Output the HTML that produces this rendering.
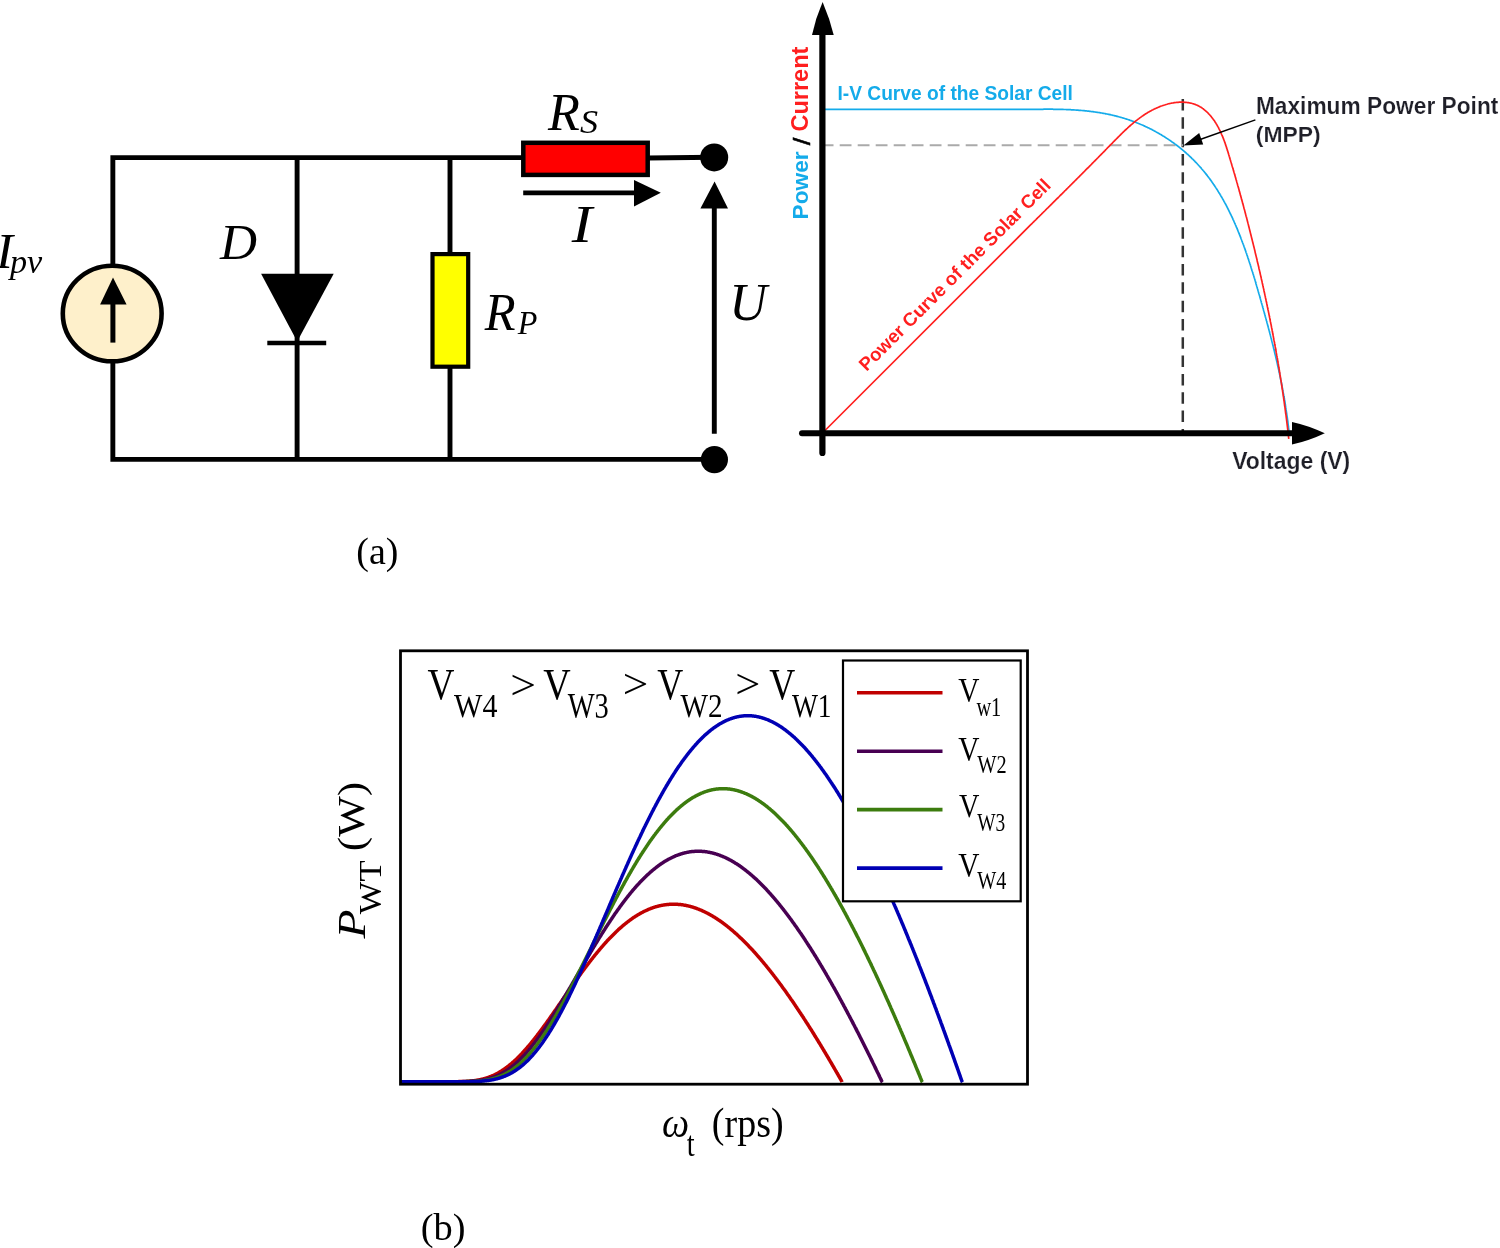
<!DOCTYPE html>
<html><head><meta charset="utf-8"><title>Figure</title>
<style>html,body{margin:0;padding:0;background:#fff;overflow:hidden}svg{display:block}
.ser{font-family:"Liberation Serif","Times New Roman",serif}
.san{font-family:"Liberation Sans",Arial,sans-serif;font-weight:bold}
</style></head><body>
<svg width="1500" height="1248" viewBox="0 0 1500 1248">
<rect width="1500" height="1248" fill="#fff"/>
<g id="circuit" stroke="#000" fill="none" stroke-width="4.9">
<polyline id="w_left" points="112.85,265 112.85,157.6 522,157.6"/>
<polyline id="w_bot" points="112.85,362 112.85,459.4 714,459.4"/>
<line x1="297.1" y1="157.6" x2="297.1" y2="459.4"/>
<line x1="450" y1="157.6" x2="450" y2="459.4"/>
<line x1="648" y1="158.0" x2="714" y2="157.2"/>
</g>
<ellipse id="src" cx="112.2" cy="313.5" rx="49.4" ry="47.8" fill="#FEF0CB" stroke="#000" stroke-width="4.6"/>
<line x1="112.9" y1="342.6" x2="112.9" y2="300" stroke="#000" stroke-width="5"/>
<polygon points="113,277.4 100.1,304.5 126.6,304.5" fill="#000"/>
<polygon id="diode" points="261.1,273.8 333.7,273.8 297.2,341.5" fill="#000"/>
<line x1="267.3" y1="343" x2="326.2" y2="343" stroke="#000" stroke-width="4.3"/>
<rect id="rp" x="432.5" y="254.1" width="35.7" height="112.6" fill="#FFFF00" stroke="#000" stroke-width="4.2"/>
<rect id="rs" x="523.3" y="142.8" width="124.4" height="32.1" fill="#FF0000" stroke="#000" stroke-width="4.5"/>
<line x1="523.2" y1="192.8" x2="636" y2="192.8" stroke="#000" stroke-width="4.8"/>
<polygon points="634,180 634,206.4 660.8,192.8" fill="#000"/>
<circle cx="714.2" cy="157.4" r="14" fill="#000"/>
<circle cx="714.4" cy="459.6" r="13.6" fill="#000"/>
<polygon points="714.6,181.6 700.4,208.5 728,208.5" fill="#000"/>
<line x1="714.3" y1="206" x2="714.3" y2="433.8" stroke="#000" stroke-width="4.9"/>
<line x1="1182.8" y1="99" x2="1182.8" y2="431" stroke="#333" stroke-width="2.5" stroke-dasharray="11.5 6.83"/>
<line x1="821.7" y1="145.3" x2="1183" y2="145.3" stroke="#aaaaaa" stroke-width="1.9" stroke-dasharray="11.8 6.2"/>
<path id="ivb" d="M822.5 109.4 L1030.6 109.4L1031.3 109.4 1032.0 109.4 1032.7 109.4 1033.4 109.4 1034.1 109.4 1034.8 109.4 1035.5 109.3 1036.2 109.3 1036.8 109.3 1037.5 109.3 1038.2 109.3 1038.9 109.3 1039.6 109.3 1040.3 109.3 1041.0 109.3 1041.7 109.3 1042.4 109.3 1043.1 109.3 1043.8 109.2 1044.4 109.2 1045.1 109.2 1045.8 109.2 1046.5 109.2 1047.2 109.2 1047.9 109.2 1048.6 109.2 1049.3 109.2 1050.0 109.2 1050.7 109.2 1051.3 109.2 1052.0 109.2 1052.7 109.2 1053.4 109.3 1054.1 109.3 1054.8 109.3 1055.5 109.3 1056.2 109.3 1056.9 109.3 1057.6 109.3 1058.2 109.3 1058.9 109.3 1059.6 109.4 1060.3 109.4 1061.0 109.4 1061.7 109.4 1062.4 109.4 1063.1 109.4 1063.8 109.5 1064.4 109.5 1065.1 109.5 1065.8 109.5 1066.5 109.6 1067.2 109.6 1067.9 109.6 1068.6 109.7 1069.3 109.7 1069.9 109.7 1070.6 109.7 1071.3 109.8 1072.0 109.8 1072.7 109.9 1073.4 109.9 1074.1 109.9 1074.7 110.0 1075.4 110.0 1076.1 110.1 1076.8 110.1 1077.5 110.2 1078.2 110.2 1078.8 110.3 1079.5 110.3 1080.2 110.4 1080.9 110.4 1081.6 110.5 1082.2 110.5 1082.9 110.6 1083.6 110.7 1084.3 110.7 1085.0 110.8 1085.6 110.9 1086.3 110.9 1087.0 111.0 1087.7 111.1 1088.4 111.2 1089.0 111.2 1089.7 111.3 1090.4 111.4 1091.1 111.5 1091.7 111.6 1092.4 111.6 1093.1 111.7 1093.8 111.8 1094.4 111.9 1095.1 112.0 1095.8 112.1 1096.4 112.2 1097.1 112.3 1097.8 112.4 1098.5 112.5 1099.1 112.6 1099.8 112.7 1100.5 112.8 1101.1 112.9 1101.8 113.0 1102.5 113.2 1103.1 113.3 1103.8 113.4 1104.5 113.5 1105.1 113.6 1105.8 113.8 1106.4 113.9 1107.1 114.0 1107.8 114.2 1108.4 114.3 1109.1 114.4 1109.7 114.6 1110.4 114.7 1111.1 114.9 1111.7 115.0 1112.4 115.2 1113.0 115.3 1113.7 115.5 1114.3 115.6 1115.0 115.8 1115.6 115.9 1116.3 116.1 1116.9 116.3 1117.6 116.4 1118.2 116.6 1118.9 116.8 1119.5 117.0 1120.2 117.2 1120.8 117.3 1121.5 117.5 1122.1 117.7 1122.8 117.9 1123.4 118.1 1124.1 118.3 1124.7 118.5 1125.3 118.7 1126.0 118.9 1126.6 119.1 1127.3 119.3 1127.9 119.5 1128.5 119.7 1129.2 119.9 1129.8 120.2 1130.4 120.4 1131.1 120.6 1131.7 120.8 1132.3 121.1 1133.0 121.3 1133.6 121.5 1134.2 121.8 1134.8 122.0 1135.5 122.2 1136.1 122.5 1136.7 122.7 1137.3 123.0 1138.0 123.2 1138.6 123.5 1139.2 123.7 1139.8 124.0 1140.4 124.2 1141.0 124.5 1141.7 124.8 1142.3 125.0 1142.9 125.3 1143.5 125.6 1144.1 125.9 1144.7 126.1 1145.3 126.4 1145.9 126.7 1146.5 127.0 1147.1 127.3 1147.7 127.6 1148.3 127.8 1148.9 128.1 1149.5 128.4 1150.1 128.7 1150.7 129.0 1151.3 129.3 1151.9 129.6 1152.5 130.0 1153.1 130.3 1153.7 130.6 1154.3 130.9 1154.9 131.2 1155.5 131.5 1156.1 131.9 1156.6 132.2 1157.2 132.5 1157.8 132.8 1158.4 133.2 1159.0 133.5 1159.5 133.8 1160.1 134.2 1160.7 134.5 1161.3 134.8 1161.8 135.2 1162.4 135.5 1163.0 135.9 1163.6 136.2 1164.1 136.6 1164.7 136.9 1165.2 137.3 1165.8 137.7 1166.4 138.0 1166.9 138.4 1167.5 138.8 1168.0 139.1 1168.6 139.5 1169.2 139.9 1169.7 140.2 1170.3 140.6 1170.8 141.0 1171.4 141.4 1171.9 141.8 1172.4 142.2 1173.0 142.5 1173.5 142.9 1174.1 143.3 1174.6 143.7 1175.1 144.1 1175.7 144.5 1176.2 144.9 1176.7 145.3 1177.3 145.7 1177.8 146.1 1178.3 146.5 1178.8 146.9 1179.4 147.4 1179.9 147.8 1180.4 148.2 1180.9 148.6 1181.4 149.0 1181.9 149.4 1182.5 149.9 1183.0 150.3 1183.5 150.7 1184.0 151.2 1184.5 151.6 1185.0 152.0 1185.5 152.5 1186.0 152.9 1186.5 153.3 1187.0 153.8 1187.5 154.2 1188.0 154.7 1188.5 155.1 1189.0 155.6 1189.4 156.0 1189.9 156.5 1190.4 156.9 1190.9 157.4 1191.4 157.9 1191.8 158.3 1192.3 158.8 1192.8 159.2 1193.3 159.7 1193.7 160.2 1194.2 160.7 1194.7 161.1 1195.1 161.6 1195.6 162.1 1196.1 162.6 1196.5 163.0 1197.0 163.5 1197.4 164.0 1197.9 164.5 1198.3 165.0 1198.8 165.5 1199.2 166.0 1199.7 166.5 1200.1 167.0 1200.5 167.5 1201.0 167.9 1201.4 168.5 1201.8 169.0 1202.3 169.5 1202.7 170.0 1203.1 170.5 1203.6 171.0 1204.0 171.5 1204.4 172.0 1204.8 172.5 1205.2 173.0 1205.7 173.6 1206.1 174.1 1206.5 174.6 1206.9 175.1 1207.3 175.6 1207.7 176.2 1208.1 176.7 1208.5 177.2 1208.9 177.8 1209.3 178.3 1209.7 178.8 1210.1 179.4 1210.5 179.9 1210.9 180.4 1211.3 181.0 1211.6 181.5 1212.0 182.1 1212.4 182.6 1212.8 183.2 1213.2 183.7 1213.5 184.2 1213.9 184.8 1214.3 185.4 1214.7 185.9 1215.0 186.5 1215.4 187.0 1215.8 187.6 1216.1 188.1 1216.5 188.7 1216.8 189.3 1217.2 189.8 1217.6 190.4 1217.9 191.0 1218.3 191.5 1218.6 192.1 1219.0 192.7 1219.3 193.2 1219.7 193.8 1220.0 194.4 1220.4 195.0 1220.7 195.5 1221.0 196.1 1221.4 196.7 1221.7 197.3 1222.1 197.9 1222.4 198.4 1222.7 199.0 1223.1 199.6 1223.4 200.2 1223.7 200.8 1224.0 201.4 1224.4 202.0 1224.7 202.6 1225.0 203.1 1225.3 203.7 1225.6 204.3 1226.0 204.9 1226.3 205.5 1226.6 206.1 1226.9 206.7 1227.2 207.3 1227.5 207.9 1227.8 208.5 1228.1 209.1 1228.4 209.7 1228.7 210.3 1229.0 211.0 1229.3 211.6 1229.6 212.2 1229.9 212.8 1230.2 213.4 1230.5 214.0 1230.8 214.6 1231.1 215.2 1231.4 215.8 1231.7 216.5 1232.0 217.1 1232.3 217.7 1232.6 218.3 1232.8 218.9 1233.1 219.6 1233.4 220.2 1233.7 220.8 1234.0 221.4 1234.2 222.0 1234.5 222.7 1234.8 223.3 1235.1 223.9 1235.3 224.5 1235.6 225.2 1235.9 225.8 1236.2 226.4 1236.4 227.1 1236.7 227.7 1237.0 228.3 1237.2 229.0 1237.5 229.6 1237.7 230.2 1238.0 230.9 1238.3 231.5 1238.5 232.1 1238.8 232.8 1239.0 233.4 1239.3 234.0 1239.5 234.7 1239.8 235.3 1240.0 236.0 1240.3 236.6 1240.5 237.2 1240.8 237.9 1241.0 238.5 1241.3 239.2 1241.5 239.8 1241.8 240.5 1242.0 241.1 1242.3 241.8 1242.5 242.4 1242.7 243.0 1243.0 243.7 1243.2 244.3 1243.5 245.0 1243.7 245.6 1243.9 246.3 1244.2 246.9 1244.4 247.6 1244.6 248.2 1244.9 248.9 1245.1 249.5 1245.3 250.2 1245.6 250.8 1245.8 251.5 1246.0 252.2 1246.2 252.8 1246.5 253.5 1246.7 254.1 1246.9 254.8 1247.1 255.4 1247.4 256.1 1247.6 256.7 1247.8 257.4 1248.0 258.0 1248.2 258.7 1248.5 259.4 1248.7 260.0 1248.9 260.7 1249.1 261.3 1249.3 262.0 1249.5 262.6 1249.7 263.3 1250.0 264.0 1250.2 264.6 1250.4 265.3 1250.6 265.9 1250.8 266.6 1251.0 267.3 1251.2 267.9 1251.4 268.6 1251.6 269.2 1251.8 269.9 1252.0 270.6 1252.3 271.2 1252.5 271.9 1252.7 272.5 1252.9 273.2 1253.1 273.9 1253.3 274.5 1253.5 275.2 1253.7 275.8 1253.9 276.5 1254.1 277.2 1254.3 277.8 1254.5 278.5 1254.7 279.1 1254.9 279.8 1255.1 280.5 1255.3 281.1 1255.5 281.8 1255.7 282.5 1255.8 283.1 1256.0 283.8 1256.2 284.4 1256.4 285.1 1256.6 285.8 1256.8 286.4 1257.0 287.1 1257.2 287.7 1257.4 288.4 1257.6 289.1 1257.8 289.7 1258.0 290.4 1258.2 291.0 1258.3 291.7 1258.5 292.3 1258.7 293.0 1258.9 293.7 1259.1 294.3 1259.3 295.0 1259.5 295.6 1259.7 296.3 1259.9 297.0 1260.0 297.6 1260.2 298.3 1260.4 298.9 1260.6 299.6 1260.8 300.2 1261.0 300.9 1261.2 301.5 1261.3 302.2 1261.5 302.9 1261.7 303.5 1261.9 304.2 1262.1 304.8 1262.3 305.5 1262.5 306.1 1262.6 306.8 1262.8 307.4 1263.0 308.1 1263.2 308.7 1263.4 309.4 1263.5 310.0 1263.7 310.7 1263.9 311.3 1264.1 312.0 1264.3 312.6 1264.4 313.3 1264.6 313.9 1264.8 314.6 1265.0 315.2 1265.2 315.9 1265.3 316.5 1265.5 317.2 1265.7 317.8 1265.9 318.5 1266.1 319.1 1266.2 319.8 1266.4 320.4 1266.6 321.1 1266.8 321.7 1266.9 322.4 1267.1 323.0 1267.3 323.7 1267.5 324.3 1267.6 325.0 1267.8 325.6 1268.0 326.2 1268.2 326.9 1268.3 327.5 1268.5 328.2 1268.7 328.8 1268.8 329.5 1269.0 330.1 1269.2 330.8 1269.4 331.4 1269.5 332.1 1269.7 332.7 1269.9 333.4 1270.0 334.0 1270.2 334.6 1270.4 335.3 1270.5 335.9 1270.7 336.6 1270.9 337.2 1271.0 337.9 1271.2 338.5 1271.4 339.2 1271.5 339.8 1271.7 340.5 1271.9 341.1 1272.0 341.7 1272.2 342.4 1272.4 343.0 1272.5 343.7 1272.7 344.3 1272.8 345.0 1273.0 345.6 1273.2 346.3 1273.3 346.9 1273.5 347.6 1273.6 348.2 1273.8 348.8 1274.0 349.5 1274.1 350.1 1274.3 350.8 1274.4 351.4 1274.6 352.1 1274.7 352.7 1274.9 353.4 1275.0 354.0 1275.2 354.7 1275.4 355.3 1275.5 356.0 1275.7 356.6 1275.8 357.2 1276.0 357.9 1276.1 358.5 1276.3 359.2 1276.4 359.8 1276.6 360.5 1276.7 361.1 1276.9 361.8 1277.0 362.4 1277.2 363.1 1277.3 363.7 1277.5 364.4 1277.6 365.0 1277.7 365.7 1277.9 366.3 1278.0 367.0 1278.2 367.6 1278.3 368.3 1278.5 368.9 1278.6 369.6 1278.8 370.2 1278.9 370.9 1279.0 371.5 1279.2 372.2 1279.3 372.8 1279.5 373.5 1279.6 374.1 1279.7 374.8 1279.9 375.4 1280.0 376.1 1280.1 376.7 1280.3 377.4 1280.4 378.0 1280.5 378.7 1280.7 379.4 1280.8 380.0 1280.9 380.7 1281.1 381.3 1281.2 382.0 1281.3 382.6 1281.5 383.3 1281.6 383.9 1281.7 384.6 1281.9 385.3 1282.0 385.9 1282.1 386.6 1282.2 387.2 1282.4 387.9 1282.5 388.5 1282.6 389.2 1282.7 389.9 1282.9 390.5 1283.0 391.2 1283.1 391.8 1283.2 392.5 1283.3 393.2 1283.5 393.8 1283.6 394.5 1283.7 395.2 1283.8 395.8 1283.9 396.5 1284.0 397.1 1284.2 397.8 1284.3 398.5 1284.4 399.1 1284.5 399.8 1284.6 400.5 1284.7 401.1 1284.8 401.8 1285.0 402.5 1285.1 403.1 1285.2 403.8 1285.3 404.5 1285.4 405.1 1285.5 405.8 1285.6 406.5 1285.7 407.2 1285.8 407.8 1285.9 408.5 1286.0 409.2 1286.1 409.8 1286.2 410.5 1286.3 411.2 1286.4 411.9 1286.5 412.5 1286.6 413.2 1286.7 413.9 1286.8 414.6 1286.9 415.3 1287.0 415.9 1287.1 416.6 1287.2 417.3 1287.3 418.0 1287.4 418.6 1287.5 419.3 1287.6 420.0 1287.7 420.7 1287.8 421.4 1287.9 422.1 1287.9 422.7 1288.0 423.4 1288.1 424.1 1288.2 424.8 1288.3 425.5 1288.4 426.2 1288.5 426.9 1288.5 427.6 1288.6 428.2 1288.7 428.9 1288.8 429.6 1288.9 430.3 1288.9 431.0 1289.0 431.7 1289.1 432.4 1289.2 433.1" fill="none" stroke="#14ABEA" stroke-width="1.7"/>
<path id="ivr" d="M822 433.5 L1030.8 224.7L1031.4 224.1 1031.9 223.6 1032.5 223.0 1033.1 222.4 1033.7 221.8 1034.3 221.2 1034.9 220.7 1035.5 220.1 1036.1 219.5 1036.6 218.9 1037.2 218.3 1037.8 217.7 1038.4 217.2 1039.0 216.6 1039.6 216.0 1040.2 215.4 1040.7 214.8 1041.3 214.3 1041.9 213.7 1042.5 213.1 1043.1 212.5 1043.7 211.9 1044.3 211.4 1044.9 210.8 1045.4 210.2 1046.0 209.6 1046.6 209.0 1047.2 208.4 1047.8 207.9 1048.4 207.3 1049.0 206.7 1049.6 206.1 1050.1 205.5 1050.7 205.0 1051.3 204.4 1051.9 203.8 1052.5 203.2 1053.1 202.6 1053.7 202.0 1054.3 201.5 1054.8 200.9 1055.4 200.3 1056.0 199.7 1056.6 199.1 1057.2 198.5 1057.8 198.0 1058.4 197.4 1059.0 196.8 1059.5 196.2 1060.1 195.6 1060.7 195.0 1061.3 194.5 1061.9 193.9 1062.5 193.3 1063.1 192.7 1063.7 192.1 1064.2 191.5 1064.8 190.9 1065.4 190.4 1066.0 189.8 1066.6 189.2 1067.2 188.6 1067.8 188.0 1068.4 187.4 1068.9 186.8 1069.5 186.3 1070.1 185.7 1070.7 185.1 1071.3 184.5 1071.9 183.9 1072.5 183.3 1073.1 182.7 1073.7 182.1 1074.2 181.6 1074.8 181.0 1075.4 180.4 1076.0 179.8 1076.6 179.2 1077.2 178.6 1077.8 178.0 1078.4 177.4 1079.0 176.8 1079.5 176.3 1080.1 175.7 1080.7 175.1 1081.3 174.5 1081.9 173.9 1082.5 173.3 1083.1 172.7 1083.7 172.1 1084.3 171.5 1084.9 170.9 1085.4 170.3 1086.0 169.7 1086.6 169.1 1087.2 168.5 1087.8 168.0 1088.4 167.4 1089.0 166.8 1089.6 166.2 1090.2 165.6 1090.8 165.0 1091.4 164.4 1091.9 163.8 1092.5 163.2 1093.1 162.6 1093.7 162.0 1094.3 161.4 1094.9 160.8 1095.5 160.2 1096.1 159.6 1096.7 159.0 1097.3 158.4 1097.9 157.8 1098.4 157.2 1099.0 156.6 1099.6 156.0 1100.2 155.4 1100.8 154.8 1101.4 154.2 1102.0 153.6 1102.6 153.0 1103.2 152.4 1103.8 151.8 1104.4 151.2 1105.0 150.6 1105.6 149.9 1106.2 149.3 1106.7 148.7 1107.3 148.1 1107.9 147.5 1108.5 146.9 1109.1 146.3 1109.7 145.7 1110.3 145.1 1110.9 144.5 1111.5 143.9 1112.1 143.3 1112.7 142.6 1113.3 142.0 1113.9 141.4 1114.5 140.8 1115.1 140.2 1115.7 139.6 1116.3 139.0 1116.9 138.4 1117.5 137.8 1118.1 137.2 1118.7 136.6 1119.3 136.0 1119.9 135.4 1120.5 134.8 1121.1 134.2 1121.7 133.6 1122.3 133.0 1122.9 132.4 1123.5 131.8 1124.2 131.2 1124.8 130.6 1125.4 130.0 1126.0 129.5 1126.6 128.9 1127.3 128.3 1127.9 127.7 1128.5 127.2 1129.1 126.6 1129.8 126.0 1130.4 125.5 1131.0 124.9 1131.7 124.4 1132.3 123.8 1133.0 123.3 1133.6 122.7 1134.2 122.2 1134.9 121.7 1135.6 121.1 1136.2 120.6 1136.9 120.1 1137.5 119.6 1138.2 119.1 1138.9 118.6 1139.5 118.1 1140.2 117.6 1140.9 117.1 1141.6 116.6 1142.2 116.1 1142.9 115.7 1143.6 115.2 1144.3 114.7 1145.0 114.3 1145.7 113.8 1146.4 113.4 1147.1 113.0 1147.8 112.5 1148.6 112.1 1149.3 111.7 1150.0 111.3 1150.7 110.9 1151.5 110.5 1152.2 110.1 1153.0 109.7 1153.7 109.3 1154.5 109.0 1155.2 108.6 1156.0 108.3 1156.7 107.9 1157.5 107.6 1158.3 107.3 1159.1 106.9 1159.8 106.6 1160.6 106.3 1161.4 106.0 1162.2 105.8 1163.0 105.5 1163.8 105.2 1164.6 105.0 1165.4 104.7 1166.2 104.5 1167.0 104.3 1167.8 104.0 1168.6 103.8 1169.4 103.6 1170.2 103.5 1171.0 103.3 1171.8 103.1 1172.6 103.0 1173.4 102.9 1174.2 102.7 1175.0 102.6 1175.8 102.5 1176.7 102.4 1177.5 102.3 1178.3 102.3 1179.1 102.2 1179.9 102.2 1180.7 102.2 1181.4 102.2 1182.2 102.2 1183.0 102.2 1183.8 102.2 1184.6 102.3 1185.4 102.3 1186.2 102.4 1186.9 102.5 1187.7 102.6 1188.5 102.7 1189.2 102.8 1190.0 103.0 1190.7 103.1 1191.5 103.3 1192.2 103.5 1192.9 103.7 1193.7 103.9 1194.4 104.2 1195.1 104.4 1195.8 104.7 1196.5 105.0 1197.2 105.3 1197.9 105.6 1198.6 106.0 1199.3 106.3 1199.9 106.7 1200.6 107.1 1201.3 107.5 1201.9 107.9 1202.5 108.4 1203.2 108.8 1203.8 109.3 1204.4 109.8 1205.0 110.3 1205.6 110.8 1206.2 111.3 1206.8 111.9 1207.4 112.4 1208.0 113.0 1208.5 113.6 1209.1 114.2 1209.6 114.8 1210.2 115.4 1210.7 116.0 1211.2 116.6 1211.7 117.3 1212.2 117.9 1212.7 118.6 1213.2 119.2 1213.7 119.9 1214.2 120.6 1214.7 121.3 1215.1 122.0 1215.6 122.7 1216.0 123.4 1216.5 124.2 1216.9 124.9 1217.3 125.6 1217.7 126.4 1218.2 127.1 1218.6 127.9 1218.9 128.6 1219.3 129.4 1219.7 130.2 1220.1 130.9 1220.4 131.7 1220.8 132.5 1221.2 133.3 1221.5 134.1 1221.8 134.8 1222.2 135.6 1222.5 136.4 1222.8 137.2 1223.2 138.0 1223.5 138.9 1223.8 139.7 1224.1 140.5 1224.4 141.3 1224.7 142.1 1225.0 142.9 1225.3 143.7 1225.5 144.6 1225.8 145.4 1226.1 146.2 1226.4 147.1 1226.6 147.9 1226.9 148.7 1227.2 149.5 1227.4 150.4 1227.7 151.2 1228.0 152.0 1228.2 152.9 1228.5 153.7 1228.7 154.5 1229.0 155.4 1229.2 156.2 1229.5 157.0 1229.7 157.9 1230.0 158.7 1230.2 159.5 1230.5 160.4 1230.7 161.2 1231.0 162.0 1231.2 162.8 1231.5 163.7 1231.7 164.5 1231.9 165.3 1232.2 166.1 1232.4 167.0 1232.7 167.8 1232.9 168.6 1233.2 169.4 1233.4 170.2 1233.6 171.1 1233.9 171.9 1234.1 172.7 1234.4 173.5 1234.6 174.3 1234.8 175.1 1235.1 176.0 1235.3 176.8 1235.5 177.6 1235.8 178.4 1236.0 179.2 1236.2 180.0 1236.5 180.8 1236.7 181.7 1236.9 182.5 1237.2 183.3 1237.4 184.1 1237.6 184.9 1237.8 185.7 1238.1 186.5 1238.3 187.3 1238.5 188.1 1238.8 188.9 1239.0 189.7 1239.2 190.5 1239.4 191.4 1239.7 192.2 1239.9 193.0 1240.1 193.8 1240.3 194.6 1240.5 195.4 1240.8 196.2 1241.0 197.0 1241.2 197.8 1241.4 198.6 1241.6 199.4 1241.9 200.2 1242.1 201.0 1242.3 201.8 1242.5 202.6 1242.7 203.4 1243.0 204.2 1243.2 205.0 1243.4 205.8 1243.6 206.6 1243.8 207.4 1244.0 208.2 1244.2 209.0 1244.5 209.8 1244.7 210.6 1244.9 211.4 1245.1 212.2 1245.3 213.0 1245.5 213.8 1245.7 214.6 1245.9 215.4 1246.1 216.2 1246.4 217.0 1246.6 217.8 1246.8 218.6 1247.0 219.4 1247.2 220.2 1247.4 221.0 1247.6 221.8 1247.8 222.6 1248.0 223.4 1248.2 224.1 1248.4 224.9 1248.6 225.7 1248.8 226.5 1249.0 227.3 1249.2 228.1 1249.4 228.9 1249.6 229.7 1249.8 230.5 1250.0 231.3 1250.2 232.1 1250.4 232.9 1250.6 233.7 1250.8 234.5 1251.0 235.3 1251.2 236.1 1251.4 236.9 1251.6 237.7 1251.8 238.5 1252.0 239.3 1252.2 240.1 1252.4 240.9 1252.6 241.7 1252.8 242.5 1253.0 243.3 1253.2 244.1 1253.4 244.9 1253.6 245.7 1253.8 246.5 1254.0 247.3 1254.2 248.1 1254.4 248.9 1254.6 249.7 1254.8 250.5 1255.0 251.3 1255.1 252.1 1255.3 252.9 1255.5 253.7 1255.7 254.5 1255.9 255.3 1256.1 256.1 1256.3 256.9 1256.5 257.7 1256.7 258.5 1256.9 259.3 1257.1 260.1 1257.2 260.9 1257.4 261.7 1257.6 262.5 1257.8 263.3 1258.0 264.1 1258.2 264.9 1258.4 265.7 1258.6 266.5 1258.8 267.3 1258.9 268.1 1259.1 269.0 1259.3 269.8 1259.5 270.6 1259.7 271.4 1259.9 272.2 1260.1 273.0 1260.2 273.8 1260.4 274.6 1260.6 275.4 1260.8 276.2 1261.0 277.0 1261.2 277.9 1261.3 278.7 1261.5 279.5 1261.7 280.3 1261.9 281.1 1262.1 281.9 1262.2 282.7 1262.4 283.5 1262.6 284.3 1262.8 285.2 1263.0 286.0 1263.1 286.8 1263.3 287.6 1263.5 288.4 1263.7 289.2 1263.9 290.0 1264.0 290.9 1264.2 291.7 1264.4 292.5 1264.6 293.3 1264.7 294.1 1264.9 294.9 1265.1 295.8 1265.3 296.6 1265.4 297.4 1265.6 298.2 1265.8 299.0 1266.0 299.8 1266.1 300.7 1266.3 301.5 1266.5 302.3 1266.7 303.1 1266.8 303.9 1267.0 304.7 1267.2 305.6 1267.3 306.4 1267.5 307.2 1267.7 308.0 1267.8 308.8 1268.0 309.7 1268.2 310.5 1268.4 311.3 1268.5 312.1 1268.7 312.9 1268.9 313.8 1269.0 314.6 1269.2 315.4 1269.4 316.2 1269.5 317.0 1269.7 317.9 1269.9 318.7 1270.0 319.5 1270.2 320.3 1270.3 321.1 1270.5 322.0 1270.7 322.8 1270.8 323.6 1271.0 324.4 1271.2 325.2 1271.3 326.1 1271.5 326.9 1271.6 327.7 1271.8 328.5 1272.0 329.4 1272.1 330.2 1272.3 331.0 1272.4 331.8 1272.6 332.7 1272.7 333.5 1272.9 334.3 1273.1 335.1 1273.2 335.9 1273.4 336.8 1273.5 337.6 1273.7 338.4 1273.8 339.2 1274.0 340.1 1274.1 340.9 1274.3 341.7 1274.5 342.5 1274.6 343.4 1274.8 344.2 1274.9 345.0 1275.1 345.8 1275.2 346.7 1275.4 347.5 1275.5 348.3 1275.7 349.1 1275.8 350.0 1276.0 350.8 1276.1 351.6 1276.2 352.4 1276.4 353.3 1276.5 354.1 1276.7 354.9 1276.8 355.7 1277.0 356.6 1277.1 357.4 1277.3 358.2 1277.4 359.0 1277.6 359.9 1277.7 360.7 1277.8 361.5 1278.0 362.3 1278.1 363.2 1278.3 364.0 1278.4 364.8 1278.5 365.6 1278.7 366.5 1278.8 367.3 1279.0 368.1 1279.1 369.0 1279.2 369.8 1279.4 370.6 1279.5 371.4 1279.6 372.3 1279.8 373.1 1279.9 373.9 1280.0 374.7 1280.2 375.6 1280.3 376.4 1280.4 377.2 1280.6 378.0 1280.7 378.9 1280.8 379.7 1281.0 380.5 1281.1 381.3 1281.2 382.2 1281.4 383.0 1281.5 383.8 1281.6 384.6 1281.7 385.5 1281.9 386.3 1282.0 387.1 1282.1 387.9 1282.2 388.8 1282.4 389.6 1282.5 390.4 1282.6 391.2 1282.7 392.1 1282.9 392.9 1283.0 393.7 1283.1 394.5 1283.2 395.4 1283.3 396.2 1283.5 397.0 1283.6 397.8 1283.7 398.7 1283.8 399.5 1283.9 400.3 1284.1 401.1 1284.2 402.0 1284.3 402.8 1284.4 403.6 1284.5 404.4 1284.6 405.3 1284.7 406.1 1284.9 406.9 1285.0 407.7 1285.1 408.6 1285.2 409.4 1285.3 410.2 1285.4 411.0 1285.5 411.8 1285.6 412.7 1285.7 413.5 1285.9 414.3 1286.0 415.1 1286.1 416.0 1286.2 416.8 1286.3 417.6 1286.4 418.4 1286.5 419.2 1286.6 420.1 1286.7 420.9 1286.8 421.7 1286.9 422.5 1287.0 423.3 1287.1 424.2 1287.2 425.0 1287.3 425.8 1287.4 426.6 1287.5 427.5 1287.6 428.3 1287.7 429.1 1287.8 429.9 1287.9 430.7 1288.0 431.5 1288.1 432.4 1288.2 433.2 1288.3 434.0 1288.4 434.8 1288.5 435.6 1288.5 436.5 1288.6 437.3 1288.7 438.1 1288.8 438.9" fill="none" stroke="#FF1F1F" stroke-width="1.7"/>
<line x1="822.4" y1="30" x2="822.4" y2="453" stroke="#000" stroke-width="6.2" stroke-linecap="round"/>
<path d="M822.6 2 Q815.5 18.5 812 35 L833.7 35 Q829.7 18.5 822.6 2 Z" fill="#000"/>
<line x1="802" y1="433.3" x2="1296" y2="433.3" stroke="#000" stroke-width="6" stroke-linecap="round"/>
<path d="M1324.8 433.3 Q1308.5 441 1292 444.6 L1292 422 Q1308.5 425.6 1324.8 433.3 Z" fill="#000"/>
<line x1="1255.4" y1="119.9" x2="1198" y2="140.2" stroke="#000" stroke-width="1.5"/>
<polygon points="1183.4,145.4 1199.2,133.1 1203.2,144.5" fill="#000"/>
<path id="wt11" d="M401.5 1081.7L402.0 1081.7 402.5 1081.7 403.0 1081.7 403.5 1081.7 404.0 1081.7 404.5 1081.7 405.0 1081.7 405.5 1081.7 406.0 1081.7 406.5 1081.7 407.0 1081.7 407.5 1081.7 408.0 1081.7 408.5 1081.7 409.0 1081.7 409.5 1081.7 410.0 1081.7 410.5 1081.7 411.0 1081.7 411.5 1081.7 412.0 1081.7 412.5 1081.7 413.0 1081.7 413.5 1081.7 414.0 1081.7 414.5 1081.7 415.0 1081.7 415.5 1081.7 416.0 1081.7 416.5 1081.7 417.0 1081.7 417.5 1081.7 418.0 1081.7 418.5 1081.7 419.0 1081.7 419.5 1081.7 420.0 1081.7 420.5 1081.7 421.0 1081.7 421.5 1081.7 422.0 1081.7 422.5 1081.7 423.0 1081.7 423.5 1081.7 424.0 1081.7 424.5 1081.7 425.0 1081.7 425.5 1081.7 426.0 1081.7 426.5 1081.7 427.0 1081.7 427.5 1081.7 428.0 1081.7 428.5 1081.7 429.0 1081.7 429.5 1081.7 430.0 1081.7 430.5 1081.7 431.0 1081.7 431.5 1081.7 432.0 1081.7 432.5 1081.7 433.0 1081.7 433.5 1081.7 434.0 1081.7 434.5 1081.7 435.0 1081.7 435.5 1081.7 436.0 1081.7 436.5 1081.7 437.0 1081.7 437.5 1081.7 438.0 1081.7 438.5 1081.7 439.0 1081.7 439.5 1081.7 440.0 1081.7 440.5 1081.7 441.0 1081.7 441.5 1081.7 442.0 1081.7 442.5 1081.7 443.0 1081.7 443.5 1081.7 444.0 1081.7 444.5 1081.7 445.0 1081.7 445.5 1081.7 446.0 1081.7 446.5 1081.7 447.0 1081.7 447.5 1081.7 448.0 1081.7 448.5 1081.7 449.0 1081.7 449.5 1081.7 450.0 1081.7 450.5 1081.7 451.0 1081.7 451.5 1081.7 452.0 1081.7 452.5 1081.7 453.0 1081.7 453.5 1081.7 454.0 1081.7 454.5 1081.7 455.0 1081.7 455.5 1081.7 456.0 1081.7 456.5 1081.7 457.0 1081.7 457.5 1081.7 458.0 1081.7 458.5 1081.6 459.0 1081.6 459.5 1081.6 460.0 1081.6 460.5 1081.6 461.0 1081.6 461.5 1081.6 462.0 1081.6 462.5 1081.5 463.0 1081.5 463.5 1081.5 464.0 1081.5 464.5 1081.5 465.0 1081.4 465.5 1081.4 466.0 1081.4 466.5 1081.4 467.0 1081.3 467.5 1081.3 468.0 1081.3 468.5 1081.2 469.0 1081.2 469.5 1081.1 470.0 1081.1 470.5 1081.0 471.0 1081.0 471.5 1081.0 472.0 1080.9 472.5 1080.8 473.0 1080.8 473.5 1080.7 474.0 1080.7 474.5 1080.6 475.0 1080.5 475.5 1080.5 476.0 1080.4 476.5 1080.3 477.0 1080.2 477.5 1080.1 478.0 1080.1 478.5 1080.0 479.0 1079.9 479.5 1079.8 480.0 1079.7 480.5 1079.6 481.0 1079.4 481.5 1079.3 482.0 1079.2 482.5 1079.1 483.0 1079.0 483.5 1078.8 484.0 1078.7 484.5 1078.6 485.0 1078.4 485.5 1078.3 486.0 1078.1 486.5 1078.0 487.0 1077.8 487.5 1077.6 488.0 1077.5 488.5 1077.3 489.0 1077.1 489.5 1076.9 490.0 1076.7 490.5 1076.5 491.0 1076.3 491.5 1076.1 492.0 1075.9 492.5 1075.7 493.0 1075.5 493.5 1075.3 494.0 1075.0 494.5 1074.8 495.0 1074.6 495.5 1074.3 496.0 1074.1 496.5 1073.8 497.0 1073.5 497.5 1073.3 498.0 1073.0 498.5 1072.7 499.0 1072.4 499.5 1072.1 500.0 1071.8 500.5 1071.5 501.0 1071.2 501.5 1070.9 502.0 1070.6 502.5 1070.3 503.0 1069.9 503.5 1069.6 504.0 1069.3 504.5 1068.9 505.0 1068.6 505.5 1068.2 506.0 1067.8 506.5 1067.5 507.0 1067.1 507.5 1066.7 508.0 1066.3 508.5 1065.9 509.0 1065.6 509.5 1065.1 510.0 1064.7 510.5 1064.3 511.0 1063.9 511.5 1063.5 512.0 1063.1 512.5 1062.6 513.0 1062.2 513.5 1061.7 514.0 1061.3 514.5 1060.8 515.0 1060.4 515.5 1059.9 516.0 1059.4 516.5 1059.0 517.0 1058.5 517.5 1058.0 518.0 1057.5 518.5 1057.0 519.0 1056.5 519.5 1056.0 520.0 1055.5 520.5 1055.0 521.0 1054.4 521.5 1053.9 522.0 1053.4 522.5 1052.8 523.0 1052.3 523.5 1051.8 524.0 1051.2 524.5 1050.6 525.0 1050.1 525.5 1049.5 526.0 1049.0 526.5 1048.4 527.0 1047.8 527.5 1047.2 528.0 1046.6 528.5 1046.1 529.0 1045.5 529.5 1044.9 530.0 1044.3 530.5 1043.7 531.0 1043.1 531.5 1042.4 532.0 1041.8 532.5 1041.2 533.0 1040.6 533.5 1040.0 534.0 1039.3 534.5 1038.7 535.0 1038.1 535.5 1037.4 536.0 1036.8 536.5 1036.1 537.0 1035.5 537.5 1034.8 538.0 1034.2 538.5 1033.5 539.0 1032.9 539.5 1032.2 540.0 1031.5 540.5 1030.9 541.0 1030.2 541.5 1029.5 542.0 1028.9 542.5 1028.2 543.0 1027.5 543.5 1026.8 544.0 1026.1 544.5 1025.4 545.0 1024.7 545.5 1024.1 546.0 1023.4 546.5 1022.7 547.0 1022.0 547.5 1021.3 548.0 1020.6 548.5 1019.9 549.0 1019.2 549.5 1018.5 550.0 1017.8 550.5 1017.0 551.0 1016.3 551.5 1015.6 552.0 1014.9 552.5 1014.2 553.0 1013.5 553.5 1012.8 554.0 1012.0 554.5 1011.3 555.0 1010.6 555.5 1009.9 556.0 1009.2 556.5 1008.5 557.0 1007.7 557.5 1007.0 558.0 1006.3 558.5 1005.6 559.0 1004.8 559.5 1004.1 560.0 1003.4 560.5 1002.7 561.0 1001.9 561.5 1001.2 562.0 1000.5 562.5 999.8 563.0 999.1 563.5 998.3 564.0 997.6 564.5 996.9 565.0 996.2 565.5 995.4 566.0 994.7 566.5 994.0 567.0 993.3 567.5 992.5 568.0 991.8 568.5 991.1 569.0 990.4 569.5 989.7 570.0 989.0 570.5 988.2 571.0 987.5 571.5 986.8 572.0 986.1 572.5 985.4 573.0 984.7 573.5 984.0 574.0 983.2 574.5 982.5 575.0 981.8 575.5 981.1 576.0 980.4 576.5 979.7 577.0 979.0 577.5 978.3 578.0 977.6 578.5 976.9 579.0 976.2 579.5 975.5 580.0 974.9 580.5 974.2 581.0 973.5 581.5 972.8 582.0 972.1 582.5 971.4 583.0 970.7 583.5 970.1 584.0 969.4 584.5 968.7 585.0 968.0 585.5 967.4 586.0 966.7 586.5 966.0 587.0 965.4 587.5 964.7 588.0 964.1 588.5 963.4 589.0 962.8 589.5 962.1 590.0 961.5 590.5 960.8 591.0 960.2 591.5 959.5 592.0 958.9 592.5 958.3 593.0 957.6 593.5 957.0 594.0 956.4 594.5 955.7 595.0 955.1 595.5 954.5 596.0 953.9 596.5 953.3 597.0 952.7 597.5 952.1 598.0 951.5 598.5 950.9 599.0 950.3 599.5 949.7 600.0 949.1 600.5 948.5 601.0 947.9 601.5 947.3 602.0 946.7 602.5 946.2 603.0 945.6 603.5 945.0 604.0 944.5 604.5 943.9 605.0 943.3 605.5 942.8 606.0 942.2 606.5 941.7 607.0 941.1 607.5 940.6 608.0 940.1 608.5 939.5 609.0 939.0 609.5 938.5 610.0 937.9 610.5 937.4 611.0 936.9 611.5 936.4 612.0 935.9 612.5 935.4 613.0 934.9 613.5 934.4 614.0 933.9 614.5 933.4 615.0 932.9 615.5 932.4 616.0 931.9 616.5 931.5 617.0 931.0 617.5 930.5 618.0 930.1 618.5 929.6 619.0 929.1 619.5 928.7 620.0 928.2 620.5 927.8 621.0 927.4 621.5 926.9 622.0 926.5 622.5 926.1 623.0 925.6 623.5 925.2 624.0 924.8 624.5 924.4 625.0 924.0 625.5 923.6 626.0 923.2 626.5 922.8 627.0 922.4 627.5 922.0 628.0 921.6 628.5 921.2 629.0 920.9 629.5 920.5 630.0 920.1 630.5 919.7 631.0 919.4 631.5 919.0 632.0 918.7 632.5 918.3 633.0 918.0 633.5 917.6 634.0 917.3 634.5 917.0 635.0 916.7 635.5 916.3 636.0 916.0 636.5 915.7 637.0 915.4 637.5 915.1 638.0 914.8 638.5 914.5 639.0 914.2 639.5 913.9 640.0 913.6 640.5 913.3 641.0 913.1 641.5 912.8 642.0 912.5 642.5 912.3 643.0 912.0 643.5 911.7 644.0 911.5 644.5 911.2 645.0 911.0 645.5 910.8 646.0 910.5 646.5 910.3 647.0 910.1 647.5 909.9 648.0 909.6 648.5 909.4 649.0 909.2 649.5 909.0 650.0 908.8 650.5 908.6 651.0 908.4 651.5 908.2 652.0 908.1 652.5 907.9 653.0 907.7 653.5 907.5 654.0 907.4 654.5 907.2 655.0 907.0 655.5 906.9 656.0 906.7 656.5 906.6 657.0 906.5 657.5 906.3 658.0 906.2 658.5 906.1 659.0 905.9 659.5 905.8 660.0 905.7 660.5 905.6 661.0 905.5 661.5 905.4 662.0 905.3 662.5 905.2 663.0 905.1 663.5 905.0 664.0 904.9 664.5 904.9 665.0 904.8 665.5 904.7 666.0 904.7 666.5 904.6 667.0 904.5 667.5 904.5 668.0 904.4 668.5 904.4 669.0 904.4 669.5 904.3 670.0 904.3 670.5 904.3 671.0 904.2 671.5 904.2 672.0 904.2 672.5 904.2 673.0 904.2 673.5 904.2 674.0 904.2 674.5 904.2 675.0 904.2 675.5 904.2 676.0 904.2 676.5 904.3 677.0 904.3 677.5 904.3 678.0 904.4 678.5 904.4 679.0 904.4 679.5 904.5 680.0 904.5 680.5 904.6 681.0 904.6 681.5 904.7 682.0 904.8 682.5 904.8 683.0 904.9 683.5 905.0 684.0 905.1 684.5 905.2 685.0 905.3 685.5 905.3 686.0 905.4 686.5 905.6 687.0 905.7 687.5 905.8 688.0 905.9 688.5 906.0 689.0 906.1 689.5 906.2 690.0 906.4 690.5 906.5 691.0 906.6 691.5 906.8 692.0 906.9 692.5 907.1 693.0 907.2 693.5 907.4 694.0 907.6 694.5 907.7 695.0 907.9 695.5 908.1 696.0 908.2 696.5 908.4 697.0 908.6 697.5 908.8 698.0 909.0 698.5 909.2 699.0 909.4 699.5 909.6 700.0 909.8 700.5 910.0 701.0 910.2 701.5 910.4 702.0 910.6 702.5 910.9 703.0 911.1 703.5 911.3 704.0 911.5 704.5 911.8 705.0 912.0 705.5 912.3 706.0 912.5 706.5 912.8 707.0 913.0 707.5 913.3 708.0 913.6 708.5 913.8 709.0 914.1 709.5 914.4 710.0 914.6 710.5 914.9 711.0 915.2 711.5 915.5 712.0 915.8 712.5 916.1 713.0 916.4 713.5 916.7 714.0 917.0 714.5 917.3 715.0 917.6 715.5 917.9 716.0 918.2 716.5 918.6 717.0 918.9 717.5 919.2 718.0 919.6 718.5 919.9 719.0 920.2 719.5 920.6 720.0 920.9 720.5 921.3 721.0 921.6 721.5 922.0 722.0 922.3 722.5 922.7 723.0 923.1 723.5 923.4 724.0 923.8 724.5 924.2 725.0 924.6 725.5 924.9 726.0 925.3 726.5 925.7 727.0 926.1 727.5 926.5 728.0 926.9 728.5 927.3 729.0 927.7 729.5 928.1 730.0 928.5 730.5 928.9 731.0 929.4 731.5 929.8 732.0 930.2 732.5 930.6 733.0 931.1 733.5 931.5 734.0 931.9 734.5 932.4 735.0 932.8 735.5 933.3 736.0 933.7 736.5 934.1 737.0 934.6 737.5 935.1 738.0 935.5 738.5 936.0 739.0 936.4 739.5 936.9 740.0 937.4 740.5 937.9 741.0 938.3 741.5 938.8 742.0 939.3 742.5 939.8 743.0 940.3 743.5 940.8 744.0 941.3 744.5 941.8 745.0 942.3 745.5 942.8 746.0 943.3 746.5 943.8 747.0 944.3 747.5 944.8 748.0 945.3 748.5 945.8 749.0 946.4 749.5 946.9 750.0 947.4 750.5 947.9 751.0 948.5 751.5 949.0 752.0 949.6 752.5 950.1 753.0 950.6 753.5 951.2 754.0 951.7 754.5 952.3 755.0 952.8 755.5 953.4 756.0 954.0 756.5 954.5 757.0 955.1 757.5 955.7 758.0 956.2 758.5 956.8 759.0 957.4 759.5 958.0 760.0 958.5 760.5 959.1 761.0 959.7 761.5 960.3 762.0 960.9 762.5 961.5 763.0 962.1 763.5 962.7 764.0 963.3 764.5 963.9 765.0 964.5 765.5 965.1 766.0 965.7 766.5 966.3 767.0 966.9 767.5 967.6 768.0 968.2 768.5 968.8 769.0 969.4 769.5 970.1 770.0 970.7 770.5 971.3 771.0 971.9 771.5 972.6 772.0 973.2 772.5 973.9 773.0 974.5 773.5 975.2 774.0 975.8 774.5 976.5 775.0 977.1 775.5 977.8 776.0 978.4 776.5 979.1 777.0 979.7 777.5 980.4 778.0 981.1 778.5 981.7 779.0 982.4 779.5 983.1 780.0 983.8 780.5 984.4 781.0 985.1 781.5 985.8 782.0 986.5 782.5 987.2 783.0 987.9 783.5 988.6 784.0 989.2 784.5 989.9 785.0 990.6 785.5 991.3 786.0 992.0 786.5 992.7 787.0 993.4 787.5 994.2 788.0 994.9 788.5 995.6 789.0 996.3 789.5 997.0 790.0 997.7 790.5 998.4 791.0 999.2 791.5 999.9 792.0 1000.6 792.5 1001.3 793.0 1002.1 793.5 1002.8 794.0 1003.5 794.5 1004.3 795.0 1005.0 795.5 1005.7 796.0 1006.5 796.5 1007.2 797.0 1008.0 797.5 1008.7 798.0 1009.5 798.5 1010.2 799.0 1011.0 799.5 1011.7 800.0 1012.5 800.5 1013.2 801.0 1014.0 801.5 1014.7 802.0 1015.5 802.5 1016.3 803.0 1017.0 803.5 1017.8 804.0 1018.6 804.5 1019.4 805.0 1020.1 805.5 1020.9 806.0 1021.7 806.5 1022.5 807.0 1023.2 807.5 1024.0 808.0 1024.8 808.5 1025.6 809.0 1026.4 809.5 1027.2 810.0 1028.0 810.5 1028.8 811.0 1029.5 811.5 1030.3 812.0 1031.1 812.5 1031.9 813.0 1032.7 813.5 1033.5 814.0 1034.3 814.5 1035.2 815.0 1036.0 815.5 1036.8 816.0 1037.6 816.5 1038.4 817.0 1039.2 817.5 1040.0 818.0 1040.8 818.5 1041.7 819.0 1042.5 819.5 1043.3 820.0 1044.1 820.5 1044.9 821.0 1045.8 821.5 1046.6 822.0 1047.4 822.5 1048.3 823.0 1049.1 823.5 1049.9 824.0 1050.8 824.5 1051.6 825.0 1052.4 825.5 1053.3 826.0 1054.1 826.5 1055.0 827.0 1055.8 827.5 1056.6 828.0 1057.5 828.5 1058.3 829.0 1059.2 829.5 1060.0 830.0 1060.9 830.5 1061.7 831.0 1062.6 831.5 1063.5 832.0 1064.3 832.5 1065.2 833.0 1066.0 833.5 1066.9 834.0 1067.8 834.5 1068.6 835.0 1069.5 835.5 1070.4 836.0 1071.2 836.5 1072.1 837.0 1073.0 837.5 1073.8 838.0 1074.7 838.5 1075.6 839.0 1076.5 839.5 1077.3 840.0 1078.2 840.5 1079.1 841.0 1080.0 841.5 1080.9 842.0 1082.2" fill="none" stroke="#C00000" stroke-width="3.5" stroke-linejoin="round"/>
<path id="wt12" d="M401.5 1081.7L402.0 1081.7 402.5 1081.7 403.0 1081.7 403.5 1081.7 404.0 1081.7 404.5 1081.7 405.0 1081.7 405.5 1081.7 406.0 1081.7 406.5 1081.7 407.0 1081.7 407.5 1081.7 408.0 1081.7 408.5 1081.7 409.0 1081.7 409.5 1081.7 410.0 1081.7 410.5 1081.7 411.0 1081.7 411.5 1081.7 412.0 1081.7 412.5 1081.7 413.0 1081.7 413.5 1081.7 414.0 1081.7 414.5 1081.7 415.0 1081.7 415.5 1081.7 416.0 1081.7 416.5 1081.7 417.0 1081.7 417.5 1081.7 418.0 1081.7 418.5 1081.7 419.0 1081.7 419.5 1081.7 420.0 1081.7 420.5 1081.7 421.0 1081.7 421.5 1081.7 422.0 1081.7 422.5 1081.7 423.0 1081.7 423.5 1081.7 424.0 1081.7 424.5 1081.7 425.0 1081.7 425.5 1081.7 426.0 1081.7 426.5 1081.7 427.0 1081.7 427.5 1081.7 428.0 1081.7 428.5 1081.7 429.0 1081.7 429.5 1081.7 430.0 1081.7 430.5 1081.7 431.0 1081.7 431.5 1081.7 432.0 1081.7 432.5 1081.7 433.0 1081.7 433.5 1081.7 434.0 1081.7 434.5 1081.7 435.0 1081.7 435.5 1081.7 436.0 1081.7 436.5 1081.7 437.0 1081.7 437.5 1081.7 438.0 1081.7 438.5 1081.7 439.0 1081.7 439.5 1081.7 440.0 1081.7 440.5 1081.7 441.0 1081.7 441.5 1081.7 442.0 1081.7 442.5 1081.7 443.0 1081.7 443.5 1081.7 444.0 1081.7 444.5 1081.7 445.0 1081.7 445.5 1081.7 446.0 1081.7 446.5 1081.7 447.0 1081.7 447.5 1081.7 448.0 1081.7 448.5 1081.7 449.0 1081.7 449.5 1081.7 450.0 1081.7 450.5 1081.7 451.0 1081.7 451.5 1081.7 452.0 1081.7 452.5 1081.7 453.0 1081.7 453.5 1081.7 454.0 1081.7 454.5 1081.7 455.0 1081.7 455.5 1081.7 456.0 1081.7 456.5 1081.7 457.0 1081.7 457.5 1081.7 458.0 1081.7 458.5 1081.7 459.0 1081.7 459.5 1081.7 460.0 1081.7 460.5 1081.7 461.0 1081.7 461.5 1081.7 462.0 1081.7 462.5 1081.6 463.0 1081.6 463.5 1081.6 464.0 1081.6 464.5 1081.6 465.0 1081.6 465.5 1081.6 466.0 1081.6 466.5 1081.5 467.0 1081.5 467.5 1081.5 468.0 1081.5 468.5 1081.5 469.0 1081.4 469.5 1081.4 470.0 1081.4 470.5 1081.4 471.0 1081.3 471.5 1081.3 472.0 1081.3 472.5 1081.2 473.0 1081.2 473.5 1081.1 474.0 1081.1 474.5 1081.1 475.0 1081.0 475.5 1081.0 476.0 1080.9 476.5 1080.9 477.0 1080.8 477.5 1080.8 478.0 1080.7 478.5 1080.6 479.0 1080.6 479.5 1080.5 480.0 1080.4 480.5 1080.4 481.0 1080.3 481.5 1080.2 482.0 1080.1 482.5 1080.0 483.0 1079.9 483.5 1079.8 484.0 1079.7 484.5 1079.6 485.0 1079.5 485.5 1079.4 486.0 1079.3 486.5 1079.2 487.0 1079.1 487.5 1078.9 488.0 1078.8 488.5 1078.7 489.0 1078.5 489.5 1078.4 490.0 1078.3 490.5 1078.1 491.0 1077.9 491.5 1077.8 492.0 1077.6 492.5 1077.5 493.0 1077.3 493.5 1077.1 494.0 1076.9 494.5 1076.7 495.0 1076.5 495.5 1076.3 496.0 1076.1 496.5 1075.9 497.0 1075.7 497.5 1075.5 498.0 1075.3 498.5 1075.0 499.0 1074.8 499.5 1074.5 500.0 1074.3 500.5 1074.0 501.0 1073.8 501.5 1073.5 502.0 1073.2 502.5 1073.0 503.0 1072.7 503.5 1072.4 504.0 1072.1 504.5 1071.8 505.0 1071.5 505.5 1071.2 506.0 1070.9 506.5 1070.5 507.0 1070.2 507.5 1069.9 508.0 1069.5 508.5 1069.2 509.0 1068.8 509.5 1068.5 510.0 1068.1 510.5 1067.7 511.0 1067.4 511.5 1067.0 512.0 1066.6 512.5 1066.2 513.0 1065.8 513.5 1065.4 514.0 1065.0 514.5 1064.6 515.0 1064.1 515.5 1063.7 516.0 1063.3 516.5 1062.8 517.0 1062.4 517.5 1061.9 518.0 1061.4 518.5 1061.0 519.0 1060.5 519.5 1060.0 520.0 1059.5 520.5 1059.0 521.0 1058.5 521.5 1058.0 522.0 1057.5 522.5 1057.0 523.0 1056.5 523.5 1055.9 524.0 1055.4 524.5 1054.9 525.0 1054.3 525.5 1053.8 526.0 1053.2 526.5 1052.7 527.0 1052.1 527.5 1051.5 528.0 1050.9 528.5 1050.4 529.0 1049.8 529.5 1049.2 530.0 1048.6 530.5 1048.0 531.0 1047.3 531.5 1046.7 532.0 1046.1 532.5 1045.5 533.0 1044.8 533.5 1044.2 534.0 1043.6 534.5 1042.9 535.0 1042.3 535.5 1041.6 536.0 1040.9 536.5 1040.3 537.0 1039.6 537.5 1038.9 538.0 1038.2 538.5 1037.6 539.0 1036.9 539.5 1036.2 540.0 1035.5 540.5 1034.8 541.0 1034.1 541.5 1033.3 542.0 1032.6 542.5 1031.9 543.0 1031.2 543.5 1030.4 544.0 1029.7 544.5 1029.0 545.0 1028.2 545.5 1027.5 546.0 1026.7 546.5 1026.0 547.0 1025.2 547.5 1024.5 548.0 1023.7 548.5 1022.9 549.0 1022.2 549.5 1021.4 550.0 1020.6 550.5 1019.8 551.0 1019.1 551.5 1018.3 552.0 1017.5 552.5 1016.7 553.0 1015.9 553.5 1015.1 554.0 1014.3 554.5 1013.5 555.0 1012.7 555.5 1011.9 556.0 1011.1 556.5 1010.3 557.0 1009.4 557.5 1008.6 558.0 1007.8 558.5 1007.0 559.0 1006.2 559.5 1005.3 560.0 1004.5 560.5 1003.7 561.0 1002.8 561.5 1002.0 562.0 1001.2 562.5 1000.3 563.0 999.5 563.5 998.6 564.0 997.8 564.5 997.0 565.0 996.1 565.5 995.3 566.0 994.4 566.5 993.6 567.0 992.7 567.5 991.9 568.0 991.0 568.5 990.2 569.0 989.3 569.5 988.4 570.0 987.6 570.5 986.7 571.0 985.9 571.5 985.0 572.0 984.2 572.5 983.3 573.0 982.4 573.5 981.6 574.0 980.7 574.5 979.9 575.0 979.0 575.5 978.1 576.0 977.3 576.5 976.4 577.0 975.5 577.5 974.7 578.0 973.8 578.5 973.0 579.0 972.1 579.5 971.2 580.0 970.4 580.5 969.5 581.0 968.7 581.5 967.8 582.0 966.9 582.5 966.1 583.0 965.2 583.5 964.4 584.0 963.5 584.5 962.7 585.0 961.8 585.5 960.9 586.0 960.1 586.5 959.2 587.0 958.4 587.5 957.5 588.0 956.7 588.5 955.9 589.0 955.0 589.5 954.2 590.0 953.3 590.5 952.5 591.0 951.6 591.5 950.8 592.0 950.0 592.5 949.1 593.0 948.3 593.5 947.5 594.0 946.6 594.5 945.8 595.0 945.0 595.5 944.1 596.0 943.3 596.5 942.5 597.0 941.7 597.5 940.9 598.0 940.1 598.5 939.2 599.0 938.4 599.5 937.6 600.0 936.8 600.5 936.0 601.0 935.2 601.5 934.4 602.0 933.6 602.5 932.8 603.0 932.0 603.5 931.2 604.0 930.4 604.5 929.7 605.0 928.9 605.5 928.1 606.0 927.3 606.5 926.5 607.0 925.8 607.5 925.0 608.0 924.2 608.5 923.5 609.0 922.7 609.5 922.0 610.0 921.2 610.5 920.4 611.0 919.7 611.5 919.0 612.0 918.2 612.5 917.5 613.0 916.7 613.5 916.0 614.0 915.3 614.5 914.5 615.0 913.8 615.5 913.1 616.0 912.4 616.5 911.7 617.0 911.0 617.5 910.3 618.0 909.6 618.5 908.9 619.0 908.2 619.5 907.5 620.0 906.8 620.5 906.1 621.0 905.4 621.5 904.7 622.0 904.0 622.5 903.4 623.0 902.7 623.5 902.0 624.0 901.4 624.5 900.7 625.0 900.1 625.5 899.4 626.0 898.8 626.5 898.1 627.0 897.5 627.5 896.9 628.0 896.2 628.5 895.6 629.0 895.0 629.5 894.4 630.0 893.7 630.5 893.1 631.0 892.5 631.5 891.9 632.0 891.3 632.5 890.7 633.0 890.1 633.5 889.6 634.0 889.0 634.5 888.4 635.0 887.8 635.5 887.3 636.0 886.7 636.5 886.1 637.0 885.6 637.5 885.0 638.0 884.5 638.5 883.9 639.0 883.4 639.5 882.8 640.0 882.3 640.5 881.8 641.0 881.3 641.5 880.7 642.0 880.2 642.5 879.7 643.0 879.2 643.5 878.7 644.0 878.2 644.5 877.7 645.0 877.2 645.5 876.7 646.0 876.3 646.5 875.8 647.0 875.3 647.5 874.8 648.0 874.4 648.5 873.9 649.0 873.5 649.5 873.0 650.0 872.6 650.5 872.1 651.0 871.7 651.5 871.3 652.0 870.8 652.5 870.4 653.0 870.0 653.5 869.6 654.0 869.2 654.5 868.8 655.0 868.4 655.5 868.0 656.0 867.6 656.5 867.2 657.0 866.8 657.5 866.4 658.0 866.1 658.5 865.7 659.0 865.3 659.5 865.0 660.0 864.6 660.5 864.3 661.0 863.9 661.5 863.6 662.0 863.2 662.5 862.9 663.0 862.6 663.5 862.3 664.0 862.0 664.5 861.6 665.0 861.3 665.5 861.0 666.0 860.7 666.5 860.4 667.0 860.1 667.5 859.9 668.0 859.6 668.5 859.3 669.0 859.0 669.5 858.8 670.0 858.5 670.5 858.3 671.0 858.0 671.5 857.8 672.0 857.5 672.5 857.3 673.0 857.0 673.5 856.8 674.0 856.6 674.5 856.4 675.0 856.1 675.5 855.9 676.0 855.7 676.5 855.5 677.0 855.3 677.5 855.1 678.0 855.0 678.5 854.8 679.0 854.6 679.5 854.4 680.0 854.3 680.5 854.1 681.0 853.9 681.5 853.8 682.0 853.6 682.5 853.5 683.0 853.3 683.5 853.2 684.0 853.1 684.5 852.9 685.0 852.8 685.5 852.7 686.0 852.6 686.5 852.5 687.0 852.4 687.5 852.3 688.0 852.2 688.5 852.1 689.0 852.0 689.5 851.9 690.0 851.8 690.5 851.8 691.0 851.7 691.5 851.6 692.0 851.6 692.5 851.5 693.0 851.5 693.5 851.4 694.0 851.4 694.5 851.4 695.0 851.3 695.5 851.3 696.0 851.3 696.5 851.3 697.0 851.2 697.5 851.2 698.0 851.2 698.5 851.2 699.0 851.2 699.5 851.2 700.0 851.3 700.5 851.3 701.0 851.3 701.5 851.3 702.0 851.4 702.5 851.4 703.0 851.4 703.5 851.5 704.0 851.5 704.5 851.6 705.0 851.6 705.5 851.7 706.0 851.8 706.5 851.8 707.0 851.9 707.5 852.0 708.0 852.1 708.5 852.2 709.0 852.3 709.5 852.3 710.0 852.5 710.5 852.6 711.0 852.7 711.5 852.8 712.0 852.9 712.5 853.0 713.0 853.1 713.5 853.3 714.0 853.4 714.5 853.6 715.0 853.7 715.5 853.8 716.0 854.0 716.5 854.2 717.0 854.3 717.5 854.5 718.0 854.7 718.5 854.8 719.0 855.0 719.5 855.2 720.0 855.4 720.5 855.6 721.0 855.8 721.5 856.0 722.0 856.2 722.5 856.4 723.0 856.6 723.5 856.8 724.0 857.0 724.5 857.2 725.0 857.5 725.5 857.7 726.0 857.9 726.5 858.2 727.0 858.4 727.5 858.7 728.0 858.9 728.5 859.2 729.0 859.4 729.5 859.7 730.0 860.0 730.5 860.2 731.0 860.5 731.5 860.8 732.0 861.1 732.5 861.4 733.0 861.6 733.5 861.9 734.0 862.2 734.5 862.5 735.0 862.9 735.5 863.2 736.0 863.5 736.5 863.8 737.0 864.1 737.5 864.4 738.0 864.8 738.5 865.1 739.0 865.4 739.5 865.8 740.0 866.1 740.5 866.5 741.0 866.8 741.5 867.2 742.0 867.6 742.5 867.9 743.0 868.3 743.5 868.7 744.0 869.0 744.5 869.4 745.0 869.8 745.5 870.2 746.0 870.6 746.5 871.0 747.0 871.4 747.5 871.8 748.0 872.2 748.5 872.6 749.0 873.0 749.5 873.4 750.0 873.8 750.5 874.3 751.0 874.7 751.5 875.1 752.0 875.5 752.5 876.0 753.0 876.4 753.5 876.9 754.0 877.3 754.5 877.8 755.0 878.2 755.5 878.7 756.0 879.1 756.5 879.6 757.0 880.1 757.5 880.6 758.0 881.0 758.5 881.5 759.0 882.0 759.5 882.5 760.0 883.0 760.5 883.5 761.0 884.0 761.5 884.5 762.0 885.0 762.5 885.5 763.0 886.0 763.5 886.5 764.0 887.0 764.5 887.5 765.0 888.1 765.5 888.6 766.0 889.1 766.5 889.6 767.0 890.2 767.5 890.7 768.0 891.3 768.5 891.8 769.0 892.4 769.5 892.9 770.0 893.5 770.5 894.0 771.0 894.6 771.5 895.2 772.0 895.7 772.5 896.3 773.0 896.9 773.5 897.5 774.0 898.0 774.5 898.6 775.0 899.2 775.5 899.8 776.0 900.4 776.5 901.0 777.0 901.6 777.5 902.2 778.0 902.8 778.5 903.4 779.0 904.0 779.5 904.6 780.0 905.3 780.5 905.9 781.0 906.5 781.5 907.1 782.0 907.8 782.5 908.4 783.0 909.0 783.5 909.7 784.0 910.3 784.5 911.0 785.0 911.6 785.5 912.3 786.0 912.9 786.5 913.6 787.0 914.2 787.5 914.9 788.0 915.6 788.5 916.2 789.0 916.9 789.5 917.6 790.0 918.3 790.5 918.9 791.0 919.6 791.5 920.3 792.0 921.0 792.5 921.7 793.0 922.4 793.5 923.1 794.0 923.8 794.5 924.5 795.0 925.2 795.5 925.9 796.0 926.6 796.5 927.3 797.0 928.0 797.5 928.7 798.0 929.5 798.5 930.2 799.0 930.9 799.5 931.6 800.0 932.4 800.5 933.1 801.0 933.8 801.5 934.6 802.0 935.3 802.5 936.1 803.0 936.8 803.5 937.6 804.0 938.3 804.5 939.1 805.0 939.8 805.5 940.6 806.0 941.4 806.5 942.1 807.0 942.9 807.5 943.7 808.0 944.4 808.5 945.2 809.0 946.0 809.5 946.8 810.0 947.5 810.5 948.3 811.0 949.1 811.5 949.9 812.0 950.7 812.5 951.5 813.0 952.3 813.5 953.1 814.0 953.9 814.5 954.7 815.0 955.5 815.5 956.3 816.0 957.1 816.5 957.9 817.0 958.8 817.5 959.6 818.0 960.4 818.5 961.2 819.0 962.0 819.5 962.9 820.0 963.7 820.5 964.5 821.0 965.4 821.5 966.2 822.0 967.0 822.5 967.9 823.0 968.7 823.5 969.6 824.0 970.4 824.5 971.3 825.0 972.1 825.5 973.0 826.0 973.8 826.5 974.7 827.0 975.6 827.5 976.4 828.0 977.3 828.5 978.2 829.0 979.0 829.5 979.9 830.0 980.8 830.5 981.6 831.0 982.5 831.5 983.4 832.0 984.3 832.5 985.2 833.0 986.1 833.5 986.9 834.0 987.8 834.5 988.7 835.0 989.6 835.5 990.5 836.0 991.4 836.5 992.3 837.0 993.2 837.5 994.1 838.0 995.0 838.5 995.9 839.0 996.8 839.5 997.8 840.0 998.7 840.5 999.6 841.0 1000.5 841.5 1001.4 842.0 1002.4 842.5 1003.3 843.0 1004.2 843.5 1005.1 844.0 1006.1 844.5 1007.0 845.0 1007.9 845.5 1008.9 846.0 1009.8 846.5 1010.7 847.0 1011.7 847.5 1012.6 848.0 1013.6 848.5 1014.5 849.0 1015.5 849.5 1016.4 850.0 1017.4 850.5 1018.3 851.0 1019.3 851.5 1020.2 852.0 1021.2 852.5 1022.1 853.0 1023.1 853.5 1024.1 854.0 1025.0 854.5 1026.0 855.0 1027.0 855.5 1027.9 856.0 1028.9 856.5 1029.9 857.0 1030.9 857.5 1031.8 858.0 1032.8 858.5 1033.8 859.0 1034.8 859.5 1035.8 860.0 1036.8 860.5 1037.7 861.0 1038.7 861.5 1039.7 862.0 1040.7 862.5 1041.7 863.0 1042.7 863.5 1043.7 864.0 1044.7 864.5 1045.7 865.0 1046.7 865.5 1047.7 866.0 1048.7 866.5 1049.7 867.0 1050.7 867.5 1051.7 868.0 1052.8 868.5 1053.8 869.0 1054.8 869.5 1055.8 870.0 1056.8 870.5 1057.8 871.0 1058.9 871.5 1059.9 872.0 1060.9 872.5 1061.9 873.0 1063.0 873.5 1064.0 874.0 1065.0 874.5 1066.0 875.0 1067.1 875.5 1068.1 876.0 1069.1 876.5 1070.2 877.0 1071.2 877.5 1072.3 878.0 1073.3 878.5 1074.3 879.0 1075.4 879.5 1076.4 880.0 1077.5 880.5 1078.5 881.0 1079.6 881.5 1080.6 882.0 1081.7 882.5 1082.2" fill="none" stroke="#480052" stroke-width="3.5" stroke-linejoin="round"/>
<path id="wt13" d="M401.5 1081.7L402.0 1081.7 402.5 1081.7 403.0 1081.7 403.5 1081.7 404.0 1081.7 404.5 1081.7 405.0 1081.7 405.5 1081.7 406.0 1081.7 406.5 1081.7 407.0 1081.7 407.5 1081.7 408.0 1081.7 408.5 1081.7 409.0 1081.7 409.5 1081.7 410.0 1081.7 410.5 1081.7 411.0 1081.7 411.5 1081.7 412.0 1081.7 412.5 1081.7 413.0 1081.7 413.5 1081.7 414.0 1081.7 414.5 1081.7 415.0 1081.7 415.5 1081.7 416.0 1081.7 416.5 1081.7 417.0 1081.7 417.5 1081.7 418.0 1081.7 418.5 1081.7 419.0 1081.7 419.5 1081.7 420.0 1081.7 420.5 1081.7 421.0 1081.7 421.5 1081.7 422.0 1081.7 422.5 1081.7 423.0 1081.7 423.5 1081.7 424.0 1081.7 424.5 1081.7 425.0 1081.7 425.5 1081.7 426.0 1081.7 426.5 1081.7 427.0 1081.7 427.5 1081.7 428.0 1081.7 428.5 1081.7 429.0 1081.7 429.5 1081.7 430.0 1081.7 430.5 1081.7 431.0 1081.7 431.5 1081.7 432.0 1081.7 432.5 1081.7 433.0 1081.7 433.5 1081.7 434.0 1081.7 434.5 1081.7 435.0 1081.7 435.5 1081.7 436.0 1081.7 436.5 1081.7 437.0 1081.7 437.5 1081.7 438.0 1081.7 438.5 1081.7 439.0 1081.7 439.5 1081.7 440.0 1081.7 440.5 1081.7 441.0 1081.7 441.5 1081.7 442.0 1081.7 442.5 1081.7 443.0 1081.7 443.5 1081.7 444.0 1081.7 444.5 1081.7 445.0 1081.7 445.5 1081.7 446.0 1081.7 446.5 1081.7 447.0 1081.7 447.5 1081.7 448.0 1081.7 448.5 1081.7 449.0 1081.7 449.5 1081.7 450.0 1081.7 450.5 1081.7 451.0 1081.7 451.5 1081.7 452.0 1081.7 452.5 1081.7 453.0 1081.7 453.5 1081.7 454.0 1081.7 454.5 1081.7 455.0 1081.7 455.5 1081.7 456.0 1081.7 456.5 1081.7 457.0 1081.7 457.5 1081.7 458.0 1081.7 458.5 1081.7 459.0 1081.7 459.5 1081.7 460.0 1081.7 460.5 1081.7 461.0 1081.7 461.5 1081.7 462.0 1081.7 462.5 1081.7 463.0 1081.7 463.5 1081.7 464.0 1081.7 464.5 1081.7 465.0 1081.7 465.5 1081.7 466.0 1081.6 466.5 1081.6 467.0 1081.6 467.5 1081.6 468.0 1081.6 468.5 1081.6 469.0 1081.6 469.5 1081.6 470.0 1081.5 470.5 1081.5 471.0 1081.5 471.5 1081.5 472.0 1081.5 472.5 1081.5 473.0 1081.4 473.5 1081.4 474.0 1081.4 474.5 1081.4 475.0 1081.3 475.5 1081.3 476.0 1081.3 476.5 1081.2 477.0 1081.2 477.5 1081.2 478.0 1081.1 478.5 1081.1 479.0 1081.0 479.5 1081.0 480.0 1080.9 480.5 1080.9 481.0 1080.8 481.5 1080.8 482.0 1080.7 482.5 1080.7 483.0 1080.6 483.5 1080.5 484.0 1080.5 484.5 1080.4 485.0 1080.3 485.5 1080.2 486.0 1080.2 486.5 1080.1 487.0 1080.0 487.5 1079.9 488.0 1079.8 488.5 1079.7 489.0 1079.6 489.5 1079.5 490.0 1079.4 490.5 1079.3 491.0 1079.2 491.5 1079.0 492.0 1078.9 492.5 1078.8 493.0 1078.7 493.5 1078.5 494.0 1078.4 494.5 1078.2 495.0 1078.1 495.5 1077.9 496.0 1077.8 496.5 1077.6 497.0 1077.4 497.5 1077.3 498.0 1077.1 498.5 1076.9 499.0 1076.7 499.5 1076.5 500.0 1076.3 500.5 1076.1 501.0 1075.9 501.5 1075.7 502.0 1075.5 502.5 1075.2 503.0 1075.0 503.5 1074.8 504.0 1074.5 504.5 1074.3 505.0 1074.0 505.5 1073.8 506.0 1073.5 506.5 1073.2 507.0 1073.0 507.5 1072.7 508.0 1072.4 508.5 1072.1 509.0 1071.8 509.5 1071.5 510.0 1071.2 510.5 1070.9 511.0 1070.5 511.5 1070.2 512.0 1069.9 512.5 1069.5 513.0 1069.2 513.5 1068.8 514.0 1068.4 514.5 1068.1 515.0 1067.7 515.5 1067.3 516.0 1066.9 516.5 1066.5 517.0 1066.1 517.5 1065.7 518.0 1065.3 518.5 1064.9 519.0 1064.4 519.5 1064.0 520.0 1063.6 520.5 1063.1 521.0 1062.7 521.5 1062.2 522.0 1061.7 522.5 1061.3 523.0 1060.8 523.5 1060.3 524.0 1059.8 524.5 1059.3 525.0 1058.8 525.5 1058.3 526.0 1057.7 526.5 1057.2 527.0 1056.7 527.5 1056.1 528.0 1055.6 528.5 1055.0 529.0 1054.5 529.5 1053.9 530.0 1053.3 530.5 1052.8 531.0 1052.2 531.5 1051.6 532.0 1051.0 532.5 1050.4 533.0 1049.8 533.5 1049.1 534.0 1048.5 534.5 1047.9 535.0 1047.3 535.5 1046.6 536.0 1046.0 536.5 1045.3 537.0 1044.6 537.5 1044.0 538.0 1043.3 538.5 1042.6 539.0 1041.9 539.5 1041.2 540.0 1040.5 540.5 1039.8 541.0 1039.1 541.5 1038.4 542.0 1037.7 542.5 1037.0 543.0 1036.2 543.5 1035.5 544.0 1034.7 544.5 1034.0 545.0 1033.2 545.5 1032.5 546.0 1031.7 546.5 1030.9 547.0 1030.2 547.5 1029.4 548.0 1028.6 548.5 1027.8 549.0 1027.0 549.5 1026.2 550.0 1025.4 550.5 1024.6 551.0 1023.8 551.5 1023.0 552.0 1022.1 552.5 1021.3 553.0 1020.5 553.5 1019.6 554.0 1018.8 554.5 1017.9 555.0 1017.1 555.5 1016.2 556.0 1015.4 556.5 1014.5 557.0 1013.6 557.5 1012.8 558.0 1011.9 558.5 1011.0 559.0 1010.1 559.5 1009.2 560.0 1008.3 560.5 1007.4 561.0 1006.5 561.5 1005.6 562.0 1004.7 562.5 1003.8 563.0 1002.9 563.5 1002.0 564.0 1001.0 564.5 1000.1 565.0 999.2 565.5 998.2 566.0 997.3 566.5 996.4 567.0 995.4 567.5 994.5 568.0 993.5 568.5 992.6 569.0 991.6 569.5 990.7 570.0 989.7 570.5 988.8 571.0 987.8 571.5 986.8 572.0 985.9 572.5 984.9 573.0 983.9 573.5 982.9 574.0 982.0 574.5 981.0 575.0 980.0 575.5 979.0 576.0 978.0 576.5 977.1 577.0 976.1 577.5 975.1 578.0 974.1 578.5 973.1 579.0 972.1 579.5 971.1 580.0 970.1 580.5 969.1 581.0 968.1 581.5 967.1 582.0 966.1 582.5 965.1 583.0 964.1 583.5 963.1 584.0 962.1 584.5 961.1 585.0 960.1 585.5 959.1 586.0 958.1 586.5 957.1 587.0 956.1 587.5 955.0 588.0 954.0 588.5 953.0 589.0 952.0 589.5 951.0 590.0 950.0 590.5 949.0 591.0 948.0 591.5 947.0 592.0 945.9 592.5 944.9 593.0 943.9 593.5 942.9 594.0 941.9 594.5 940.9 595.0 939.9 595.5 938.9 596.0 937.9 596.5 936.9 597.0 935.8 597.5 934.8 598.0 933.8 598.5 932.8 599.0 931.8 599.5 930.8 600.0 929.8 600.5 928.8 601.0 927.8 601.5 926.8 602.0 925.8 602.5 924.8 603.0 923.8 603.5 922.8 604.0 921.8 604.5 920.8 605.0 919.8 605.5 918.9 606.0 917.9 606.5 916.9 607.0 915.9 607.5 914.9 608.0 913.9 608.5 912.9 609.0 912.0 609.5 911.0 610.0 910.0 610.5 909.0 611.0 908.1 611.5 907.1 612.0 906.1 612.5 905.2 613.0 904.2 613.5 903.3 614.0 902.3 614.5 901.3 615.0 900.4 615.5 899.4 616.0 898.5 616.5 897.5 617.0 896.6 617.5 895.6 618.0 894.7 618.5 893.8 619.0 892.8 619.5 891.9 620.0 891.0 620.5 890.1 621.0 889.1 621.5 888.2 622.0 887.3 622.5 886.4 623.0 885.5 623.5 884.6 624.0 883.6 624.5 882.7 625.0 881.8 625.5 880.9 626.0 880.1 626.5 879.2 627.0 878.3 627.5 877.4 628.0 876.5 628.5 875.6 629.0 874.8 629.5 873.9 630.0 873.0 630.5 872.2 631.0 871.3 631.5 870.4 632.0 869.6 632.5 868.7 633.0 867.9 633.5 867.0 634.0 866.2 634.5 865.4 635.0 864.5 635.5 863.7 636.0 862.9 636.5 862.0 637.0 861.2 637.5 860.4 638.0 859.6 638.5 858.8 639.0 858.0 639.5 857.2 640.0 856.4 640.5 855.6 641.0 854.8 641.5 854.0 642.0 853.3 642.5 852.5 643.0 851.7 643.5 850.9 644.0 850.2 644.5 849.4 645.0 848.7 645.5 847.9 646.0 847.2 646.5 846.4 647.0 845.7 647.5 844.9 648.0 844.2 648.5 843.5 649.0 842.8 649.5 842.1 650.0 841.3 650.5 840.6 651.0 839.9 651.5 839.2 652.0 838.5 652.5 837.8 653.0 837.2 653.5 836.5 654.0 835.8 654.5 835.1 655.0 834.5 655.5 833.8 656.0 833.1 656.5 832.5 657.0 831.8 657.5 831.2 658.0 830.5 658.5 829.9 659.0 829.3 659.5 828.6 660.0 828.0 660.5 827.4 661.0 826.8 661.5 826.2 662.0 825.6 662.5 825.0 663.0 824.4 663.5 823.8 664.0 823.2 664.5 822.6 665.0 822.0 665.5 821.5 666.0 820.9 666.5 820.3 667.0 819.8 667.5 819.2 668.0 818.7 668.5 818.1 669.0 817.6 669.5 817.1 670.0 816.5 670.5 816.0 671.0 815.5 671.5 815.0 672.0 814.5 672.5 814.0 673.0 813.5 673.5 813.0 674.0 812.5 674.5 812.0 675.0 811.5 675.5 811.0 676.0 810.6 676.5 810.1 677.0 809.6 677.5 809.2 678.0 808.7 678.5 808.3 679.0 807.8 679.5 807.4 680.0 807.0 680.5 806.6 681.0 806.1 681.5 805.7 682.0 805.3 682.5 804.9 683.0 804.5 683.5 804.1 684.0 803.7 684.5 803.3 685.0 802.9 685.5 802.6 686.0 802.2 686.5 801.8 687.0 801.5 687.5 801.1 688.0 800.8 688.5 800.4 689.0 800.1 689.5 799.7 690.0 799.4 690.5 799.1 691.0 798.8 691.5 798.5 692.0 798.1 692.5 797.8 693.0 797.5 693.5 797.2 694.0 797.0 694.5 796.7 695.0 796.4 695.5 796.1 696.0 795.8 696.5 795.6 697.0 795.3 697.5 795.1 698.0 794.8 698.5 794.6 699.0 794.3 699.5 794.1 700.0 793.9 700.5 793.6 701.0 793.4 701.5 793.2 702.0 793.0 702.5 792.8 703.0 792.6 703.5 792.4 704.0 792.2 704.5 792.0 705.0 791.8 705.5 791.7 706.0 791.5 706.5 791.3 707.0 791.2 707.5 791.0 708.0 790.9 708.5 790.7 709.0 790.6 709.5 790.4 710.0 790.3 710.5 790.2 711.0 790.1 711.5 789.9 712.0 789.8 712.5 789.7 713.0 789.6 713.5 789.5 714.0 789.4 714.5 789.4 715.0 789.3 715.5 789.2 716.0 789.1 716.5 789.1 717.0 789.0 717.5 789.0 718.0 788.9 718.5 788.9 719.0 788.8 719.5 788.8 720.0 788.7 720.5 788.7 721.0 788.7 721.5 788.7 722.0 788.7 722.5 788.7 723.0 788.7 723.5 788.7 724.0 788.7 724.5 788.7 725.0 788.7 725.5 788.7 726.0 788.8 726.5 788.8 727.0 788.8 727.5 788.9 728.0 788.9 728.5 789.0 729.0 789.0 729.5 789.1 730.0 789.1 730.5 789.2 731.0 789.3 731.5 789.4 732.0 789.4 732.5 789.5 733.0 789.6 733.5 789.7 734.0 789.8 734.5 789.9 735.0 790.1 735.5 790.2 736.0 790.3 736.5 790.4 737.0 790.5 737.5 790.7 738.0 790.8 738.5 791.0 739.0 791.1 739.5 791.3 740.0 791.4 740.5 791.6 741.0 791.8 741.5 791.9 742.0 792.1 742.5 792.3 743.0 792.5 743.5 792.7 744.0 792.9 744.5 793.1 745.0 793.3 745.5 793.5 746.0 793.7 746.5 793.9 747.0 794.1 747.5 794.4 748.0 794.6 748.5 794.8 749.0 795.1 749.5 795.3 750.0 795.6 750.5 795.8 751.0 796.1 751.5 796.3 752.0 796.6 752.5 796.9 753.0 797.2 753.5 797.4 754.0 797.7 754.5 798.0 755.0 798.3 755.5 798.6 756.0 798.9 756.5 799.2 757.0 799.5 757.5 799.8 758.0 800.2 758.5 800.5 759.0 800.8 759.5 801.2 760.0 801.5 760.5 801.8 761.0 802.2 761.5 802.5 762.0 802.9 762.5 803.2 763.0 803.6 763.5 804.0 764.0 804.3 764.5 804.7 765.0 805.1 765.5 805.5 766.0 805.9 766.5 806.3 767.0 806.6 767.5 807.0 768.0 807.5 768.5 807.9 769.0 808.3 769.5 808.7 770.0 809.1 770.5 809.5 771.0 810.0 771.5 810.4 772.0 810.8 772.5 811.3 773.0 811.7 773.5 812.2 774.0 812.6 774.5 813.1 775.0 813.5 775.5 814.0 776.0 814.5 776.5 814.9 777.0 815.4 777.5 815.9 778.0 816.4 778.5 816.9 779.0 817.4 779.5 817.9 780.0 818.4 780.5 818.9 781.0 819.4 781.5 819.9 782.0 820.4 782.5 820.9 783.0 821.5 783.5 822.0 784.0 822.5 784.5 823.0 785.0 823.6 785.5 824.1 786.0 824.7 786.5 825.2 787.0 825.8 787.5 826.3 788.0 826.9 788.5 827.5 789.0 828.0 789.5 828.6 790.0 829.2 790.5 829.8 791.0 830.3 791.5 830.9 792.0 831.5 792.5 832.1 793.0 832.7 793.5 833.3 794.0 833.9 794.5 834.5 795.0 835.1 795.5 835.8 796.0 836.4 796.5 837.0 797.0 837.6 797.5 838.3 798.0 838.9 798.5 839.5 799.0 840.2 799.5 840.8 800.0 841.5 800.5 842.1 801.0 842.8 801.5 843.4 802.0 844.1 802.5 844.8 803.0 845.4 803.5 846.1 804.0 846.8 804.5 847.5 805.0 848.1 805.5 848.8 806.0 849.5 806.5 850.2 807.0 850.9 807.5 851.6 808.0 852.3 808.5 853.0 809.0 853.7 809.5 854.4 810.0 855.1 810.5 855.9 811.0 856.6 811.5 857.3 812.0 858.0 812.5 858.8 813.0 859.5 813.5 860.3 814.0 861.0 814.5 861.7 815.0 862.5 815.5 863.2 816.0 864.0 816.5 864.8 817.0 865.5 817.5 866.3 818.0 867.0 818.5 867.8 819.0 868.6 819.5 869.4 820.0 870.1 820.5 870.9 821.0 871.7 821.5 872.5 822.0 873.3 822.5 874.1 823.0 874.9 823.5 875.7 824.0 876.5 824.5 877.3 825.0 878.1 825.5 878.9 826.0 879.7 826.5 880.6 827.0 881.4 827.5 882.2 828.0 883.0 828.5 883.9 829.0 884.7 829.5 885.5 830.0 886.4 830.5 887.2 831.0 888.1 831.5 888.9 832.0 889.8 832.5 890.6 833.0 891.5 833.5 892.4 834.0 893.2 834.5 894.1 835.0 895.0 835.5 895.8 836.0 896.7 836.5 897.6 837.0 898.5 837.5 899.3 838.0 900.2 838.5 901.1 839.0 902.0 839.5 902.9 840.0 903.8 840.5 904.7 841.0 905.6 841.5 906.5 842.0 907.4 842.5 908.3 843.0 909.2 843.5 910.1 844.0 911.1 844.5 912.0 845.0 912.9 845.5 913.8 846.0 914.8 846.5 915.7 847.0 916.6 847.5 917.6 848.0 918.5 848.5 919.5 849.0 920.4 849.5 921.3 850.0 922.3 850.5 923.2 851.0 924.2 851.5 925.2 852.0 926.1 852.5 927.1 853.0 928.0 853.5 929.0 854.0 930.0 854.5 931.0 855.0 931.9 855.5 932.9 856.0 933.9 856.5 934.9 857.0 935.9 857.5 936.8 858.0 937.8 858.5 938.8 859.0 939.8 859.5 940.8 860.0 941.8 860.5 942.8 861.0 943.8 861.5 944.8 862.0 945.8 862.5 946.8 863.0 947.9 863.5 948.9 864.0 949.9 864.5 950.9 865.0 951.9 865.5 953.0 866.0 954.0 866.5 955.0 867.0 956.0 867.5 957.1 868.0 958.1 868.5 959.1 869.0 960.2 869.5 961.2 870.0 962.3 870.5 963.3 871.0 964.4 871.5 965.4 872.0 966.5 872.5 967.5 873.0 968.6 873.5 969.7 874.0 970.7 874.5 971.8 875.0 972.8 875.5 973.9 876.0 975.0 876.5 976.1 877.0 977.1 877.5 978.2 878.0 979.3 878.5 980.4 879.0 981.5 879.5 982.5 880.0 983.6 880.5 984.7 881.0 985.8 881.5 986.9 882.0 988.0 882.5 989.1 883.0 990.2 883.5 991.3 884.0 992.4 884.5 993.5 885.0 994.6 885.5 995.7 886.0 996.8 886.5 998.0 887.0 999.1 887.5 1000.2 888.0 1001.3 888.5 1002.4 889.0 1003.5 889.5 1004.7 890.0 1005.8 890.5 1006.9 891.0 1008.1 891.5 1009.2 892.0 1010.3 892.5 1011.5 893.0 1012.6 893.5 1013.7 894.0 1014.9 894.5 1016.0 895.0 1017.2 895.5 1018.3 896.0 1019.5 896.5 1020.6 897.0 1021.8 897.5 1022.9 898.0 1024.1 898.5 1025.2 899.0 1026.4 899.5 1027.6 900.0 1028.7 900.5 1029.9 901.0 1031.1 901.5 1032.2 902.0 1033.4 902.5 1034.6 903.0 1035.8 903.5 1036.9 904.0 1038.1 904.5 1039.3 905.0 1040.5 905.5 1041.6 906.0 1042.8 906.5 1044.0 907.0 1045.2 907.5 1046.4 908.0 1047.6 908.5 1048.8 909.0 1050.0 909.5 1051.2 910.0 1052.4 910.5 1053.6 911.0 1054.8 911.5 1056.0 912.0 1057.2 912.5 1058.4 913.0 1059.6 913.5 1060.8 914.0 1062.0 914.5 1063.2 915.0 1064.4 915.5 1065.6 916.0 1066.9 916.5 1068.1 917.0 1069.3 917.5 1070.5 918.0 1071.7 918.5 1073.0 919.0 1074.2 919.5 1075.4 920.0 1076.6 920.5 1077.9 921.0 1079.1 921.5 1080.3 922.0 1081.6 922.5 1082.2" fill="none" stroke="#3C7C0E" stroke-width="3.5" stroke-linejoin="round"/>
<path id="wt14" d="M401.5 1081.7L402.0 1081.7 402.5 1081.7 403.0 1081.7 403.5 1081.7 404.0 1081.7 404.5 1081.7 405.0 1081.7 405.5 1081.7 406.0 1081.7 406.5 1081.7 407.0 1081.7 407.5 1081.7 408.0 1081.7 408.5 1081.7 409.0 1081.7 409.5 1081.7 410.0 1081.7 410.5 1081.7 411.0 1081.7 411.5 1081.7 412.0 1081.7 412.5 1081.7 413.0 1081.7 413.5 1081.7 414.0 1081.7 414.5 1081.7 415.0 1081.7 415.5 1081.7 416.0 1081.7 416.5 1081.7 417.0 1081.7 417.5 1081.7 418.0 1081.7 418.5 1081.7 419.0 1081.7 419.5 1081.7 420.0 1081.7 420.5 1081.7 421.0 1081.7 421.5 1081.7 422.0 1081.7 422.5 1081.7 423.0 1081.7 423.5 1081.7 424.0 1081.7 424.5 1081.7 425.0 1081.7 425.5 1081.7 426.0 1081.7 426.5 1081.7 427.0 1081.7 427.5 1081.7 428.0 1081.7 428.5 1081.7 429.0 1081.7 429.5 1081.7 430.0 1081.7 430.5 1081.7 431.0 1081.7 431.5 1081.7 432.0 1081.7 432.5 1081.7 433.0 1081.7 433.5 1081.7 434.0 1081.7 434.5 1081.7 435.0 1081.7 435.5 1081.7 436.0 1081.7 436.5 1081.7 437.0 1081.7 437.5 1081.7 438.0 1081.7 438.5 1081.7 439.0 1081.7 439.5 1081.7 440.0 1081.7 440.5 1081.7 441.0 1081.7 441.5 1081.7 442.0 1081.7 442.5 1081.7 443.0 1081.7 443.5 1081.7 444.0 1081.7 444.5 1081.7 445.0 1081.7 445.5 1081.7 446.0 1081.7 446.5 1081.7 447.0 1081.7 447.5 1081.7 448.0 1081.7 448.5 1081.7 449.0 1081.7 449.5 1081.7 450.0 1081.7 450.5 1081.7 451.0 1081.7 451.5 1081.7 452.0 1081.7 452.5 1081.7 453.0 1081.7 453.5 1081.7 454.0 1081.7 454.5 1081.7 455.0 1081.7 455.5 1081.7 456.0 1081.7 456.5 1081.7 457.0 1081.7 457.5 1081.7 458.0 1081.7 458.5 1081.7 459.0 1081.7 459.5 1081.7 460.0 1081.7 460.5 1081.7 461.0 1081.7 461.5 1081.7 462.0 1081.7 462.5 1081.7 463.0 1081.7 463.5 1081.7 464.0 1081.7 464.5 1081.7 465.0 1081.7 465.5 1081.7 466.0 1081.7 466.5 1081.7 467.0 1081.7 467.5 1081.7 468.0 1081.7 468.5 1081.7 469.0 1081.7 469.5 1081.7 470.0 1081.6 470.5 1081.6 471.0 1081.6 471.5 1081.6 472.0 1081.6 472.5 1081.6 473.0 1081.6 473.5 1081.6 474.0 1081.5 474.5 1081.5 475.0 1081.5 475.5 1081.5 476.0 1081.5 476.5 1081.4 477.0 1081.4 477.5 1081.4 478.0 1081.4 478.5 1081.4 479.0 1081.3 479.5 1081.3 480.0 1081.3 480.5 1081.2 481.0 1081.2 481.5 1081.2 482.0 1081.1 482.5 1081.1 483.0 1081.0 483.5 1081.0 484.0 1080.9 484.5 1080.9 485.0 1080.8 485.5 1080.8 486.0 1080.7 486.5 1080.7 487.0 1080.6 487.5 1080.6 488.0 1080.5 488.5 1080.4 489.0 1080.4 489.5 1080.3 490.0 1080.2 490.5 1080.1 491.0 1080.0 491.5 1079.9 492.0 1079.9 492.5 1079.8 493.0 1079.7 493.5 1079.6 494.0 1079.5 494.5 1079.4 495.0 1079.2 495.5 1079.1 496.0 1079.0 496.5 1078.9 497.0 1078.8 497.5 1078.6 498.0 1078.5 498.5 1078.3 499.0 1078.2 499.5 1078.1 500.0 1077.9 500.5 1077.7 501.0 1077.6 501.5 1077.4 502.0 1077.2 502.5 1077.1 503.0 1076.9 503.5 1076.7 504.0 1076.5 504.5 1076.3 505.0 1076.1 505.5 1075.9 506.0 1075.7 506.5 1075.5 507.0 1075.2 507.5 1075.0 508.0 1074.8 508.5 1074.5 509.0 1074.3 509.5 1074.0 510.0 1073.8 510.5 1073.5 511.0 1073.2 511.5 1073.0 512.0 1072.7 512.5 1072.4 513.0 1072.1 513.5 1071.8 514.0 1071.5 514.5 1071.2 515.0 1070.8 515.5 1070.5 516.0 1070.2 516.5 1069.8 517.0 1069.5 517.5 1069.1 518.0 1068.8 518.5 1068.4 519.0 1068.0 519.5 1067.7 520.0 1067.3 520.5 1066.9 521.0 1066.5 521.5 1066.1 522.0 1065.7 522.5 1065.3 523.0 1064.8 523.5 1064.4 524.0 1063.9 524.5 1063.5 525.0 1063.0 525.5 1062.6 526.0 1062.1 526.5 1061.6 527.0 1061.2 527.5 1060.7 528.0 1060.2 528.5 1059.7 529.0 1059.2 529.5 1058.6 530.0 1058.1 530.5 1057.6 531.0 1057.0 531.5 1056.5 532.0 1055.9 532.5 1055.4 533.0 1054.8 533.5 1054.2 534.0 1053.6 534.5 1053.1 535.0 1052.5 535.5 1051.9 536.0 1051.2 536.5 1050.6 537.0 1050.0 537.5 1049.4 538.0 1048.7 538.5 1048.1 539.0 1047.4 539.5 1046.8 540.0 1046.1 540.5 1045.4 541.0 1044.7 541.5 1044.1 542.0 1043.4 542.5 1042.7 543.0 1042.0 543.5 1041.2 544.0 1040.5 544.5 1039.8 545.0 1039.0 545.5 1038.3 546.0 1037.6 546.5 1036.8 547.0 1036.0 547.5 1035.3 548.0 1034.5 548.5 1033.7 549.0 1032.9 549.5 1032.1 550.0 1031.3 550.5 1030.5 551.0 1029.7 551.5 1028.9 552.0 1028.1 552.5 1027.2 553.0 1026.4 553.5 1025.5 554.0 1024.7 554.5 1023.8 555.0 1023.0 555.5 1022.1 556.0 1021.2 556.5 1020.3 557.0 1019.5 557.5 1018.6 558.0 1017.7 558.5 1016.8 559.0 1015.9 559.5 1014.9 560.0 1014.0 560.5 1013.1 561.0 1012.2 561.5 1011.2 562.0 1010.3 562.5 1009.3 563.0 1008.4 563.5 1007.4 564.0 1006.5 564.5 1005.5 565.0 1004.5 565.5 1003.5 566.0 1002.6 566.5 1001.6 567.0 1000.6 567.5 999.6 568.0 998.6 568.5 997.6 569.0 996.6 569.5 995.6 570.0 994.5 570.5 993.5 571.0 992.5 571.5 991.5 572.0 990.4 572.5 989.4 573.0 988.3 573.5 987.3 574.0 986.2 574.5 985.2 575.0 984.1 575.5 983.1 576.0 982.0 576.5 980.9 577.0 979.8 577.5 978.8 578.0 977.7 578.5 976.6 579.0 975.5 579.5 974.4 580.0 973.3 580.5 972.2 581.0 971.1 581.5 970.0 582.0 968.9 582.5 967.8 583.0 966.7 583.5 965.6 584.0 964.5 584.5 963.4 585.0 962.2 585.5 961.1 586.0 960.0 586.5 958.9 587.0 957.7 587.5 956.6 588.0 955.5 588.5 954.3 589.0 953.2 589.5 952.0 590.0 950.9 590.5 949.7 591.0 948.6 591.5 947.4 592.0 946.3 592.5 945.1 593.0 944.0 593.5 942.8 594.0 941.7 594.5 940.5 595.0 939.4 595.5 938.2 596.0 937.0 596.5 935.9 597.0 934.7 597.5 933.5 598.0 932.4 598.5 931.2 599.0 930.0 599.5 928.9 600.0 927.7 600.5 926.5 601.0 925.4 601.5 924.2 602.0 923.0 602.5 921.9 603.0 920.7 603.5 919.5 604.0 918.3 604.5 917.2 605.0 916.0 605.5 914.8 606.0 913.6 606.5 912.5 607.0 911.3 607.5 910.1 608.0 909.0 608.5 907.8 609.0 906.6 609.5 905.4 610.0 904.3 610.5 903.1 611.0 901.9 611.5 900.8 612.0 899.6 612.5 898.4 613.0 897.3 613.5 896.1 614.0 894.9 614.5 893.8 615.0 892.6 615.5 891.4 616.0 890.3 616.5 889.1 617.0 887.9 617.5 886.8 618.0 885.6 618.5 884.5 619.0 883.3 619.5 882.2 620.0 881.0 620.5 879.9 621.0 878.7 621.5 877.6 622.0 876.4 622.5 875.3 623.0 874.1 623.5 873.0 624.0 871.9 624.5 870.7 625.0 869.6 625.5 868.5 626.0 867.3 626.5 866.2 627.0 865.1 627.5 864.0 628.0 862.8 628.5 861.7 629.0 860.6 629.5 859.5 630.0 858.4 630.5 857.3 631.0 856.1 631.5 855.0 632.0 853.9 632.5 852.8 633.0 851.7 633.5 850.6 634.0 849.5 634.5 848.5 635.0 847.4 635.5 846.3 636.0 845.2 636.5 844.1 637.0 843.1 637.5 842.0 638.0 840.9 638.5 839.8 639.0 838.8 639.5 837.7 640.0 836.7 640.5 835.6 641.0 834.6 641.5 833.5 642.0 832.5 642.5 831.4 643.0 830.4 643.5 829.3 644.0 828.3 644.5 827.3 645.0 826.3 645.5 825.2 646.0 824.2 646.5 823.2 647.0 822.2 647.5 821.2 648.0 820.2 648.5 819.2 649.0 818.2 649.5 817.2 650.0 816.2 650.5 815.2 651.0 814.2 651.5 813.3 652.0 812.3 652.5 811.3 653.0 810.4 653.5 809.4 654.0 808.4 654.5 807.5 655.0 806.5 655.5 805.6 656.0 804.6 656.5 803.7 657.0 802.8 657.5 801.8 658.0 800.9 658.5 800.0 659.0 799.1 659.5 798.2 660.0 797.3 660.5 796.4 661.0 795.5 661.5 794.6 662.0 793.7 662.5 792.8 663.0 791.9 663.5 791.0 664.0 790.1 664.5 789.3 665.0 788.4 665.5 787.6 666.0 786.7 666.5 785.8 667.0 785.0 667.5 784.2 668.0 783.3 668.5 782.5 669.0 781.7 669.5 780.8 670.0 780.0 670.5 779.2 671.0 778.4 671.5 777.6 672.0 776.8 672.5 776.0 673.0 775.2 673.5 774.4 674.0 773.6 674.5 772.9 675.0 772.1 675.5 771.3 676.0 770.6 676.5 769.8 677.0 769.1 677.5 768.3 678.0 767.6 678.5 766.8 679.0 766.1 679.5 765.4 680.0 764.7 680.5 763.9 681.0 763.2 681.5 762.5 682.0 761.8 682.5 761.1 683.0 760.4 683.5 759.7 684.0 759.1 684.5 758.4 685.0 757.7 685.5 757.1 686.0 756.4 686.5 755.7 687.0 755.1 687.5 754.4 688.0 753.8 688.5 753.2 689.0 752.5 689.5 751.9 690.0 751.3 690.5 750.7 691.0 750.1 691.5 749.5 692.0 748.9 692.5 748.3 693.0 747.7 693.5 747.1 694.0 746.5 694.5 745.9 695.0 745.4 695.5 744.8 696.0 744.3 696.5 743.7 697.0 743.2 697.5 742.6 698.0 742.1 698.5 741.6 699.0 741.0 699.5 740.5 700.0 740.0 700.5 739.5 701.0 739.0 701.5 738.5 702.0 738.0 702.5 737.5 703.0 737.0 703.5 736.5 704.0 736.1 704.5 735.6 705.0 735.1 705.5 734.7 706.0 734.2 706.5 733.8 707.0 733.4 707.5 732.9 708.0 732.5 708.5 732.1 709.0 731.7 709.5 731.2 710.0 730.8 710.5 730.4 711.0 730.0 711.5 729.6 712.0 729.3 712.5 728.9 713.0 728.5 713.5 728.1 714.0 727.8 714.5 727.4 715.0 727.1 715.5 726.7 716.0 726.4 716.5 726.0 717.0 725.7 717.5 725.4 718.0 725.1 718.5 724.7 719.0 724.4 719.5 724.1 720.0 723.8 720.5 723.5 721.0 723.3 721.5 723.0 722.0 722.7 722.5 722.4 723.0 722.2 723.5 721.9 724.0 721.6 724.5 721.4 725.0 721.1 725.5 720.9 726.0 720.7 726.5 720.4 727.0 720.2 727.5 720.0 728.0 719.8 728.5 719.6 729.0 719.4 729.5 719.2 730.0 719.0 730.5 718.8 731.0 718.6 731.5 718.5 732.0 718.3 732.5 718.1 733.0 718.0 733.5 717.8 734.0 717.7 734.5 717.5 735.0 717.4 735.5 717.3 736.0 717.1 736.5 717.0 737.0 716.9 737.5 716.8 738.0 716.7 738.5 716.6 739.0 716.5 739.5 716.4 740.0 716.3 740.5 716.2 741.0 716.2 741.5 716.1 742.0 716.0 742.5 716.0 743.0 715.9 743.5 715.9 744.0 715.8 744.5 715.8 745.0 715.8 745.5 715.7 746.0 715.7 746.5 715.7 747.0 715.7 747.5 715.7 748.0 715.7 748.5 715.7 749.0 715.7 749.5 715.7 750.0 715.7 750.5 715.8 751.0 715.8 751.5 715.8 752.0 715.9 752.5 715.9 753.0 716.0 753.5 716.0 754.0 716.1 754.5 716.2 755.0 716.2 755.5 716.3 756.0 716.4 756.5 716.5 757.0 716.6 757.5 716.7 758.0 716.8 758.5 716.9 759.0 717.0 759.5 717.1 760.0 717.3 760.5 717.4 761.0 717.5 761.5 717.7 762.0 717.8 762.5 718.0 763.0 718.1 763.5 718.3 764.0 718.4 764.5 718.6 765.0 718.8 765.5 719.0 766.0 719.1 766.5 719.3 767.0 719.5 767.5 719.7 768.0 719.9 768.5 720.1 769.0 720.4 769.5 720.6 770.0 720.8 770.5 721.0 771.0 721.3 771.5 721.5 772.0 721.7 772.5 722.0 773.0 722.2 773.5 722.5 774.0 722.8 774.5 723.0 775.0 723.3 775.5 723.6 776.0 723.9 776.5 724.1 777.0 724.4 777.5 724.7 778.0 725.0 778.5 725.3 779.0 725.7 779.5 726.0 780.0 726.3 780.5 726.6 781.0 726.9 781.5 727.3 782.0 727.6 782.5 728.0 783.0 728.3 783.5 728.7 784.0 729.0 784.5 729.4 785.0 729.8 785.5 730.1 786.0 730.5 786.5 730.9 787.0 731.3 787.5 731.7 788.0 732.1 788.5 732.5 789.0 732.9 789.5 733.3 790.0 733.7 790.5 734.1 791.0 734.5 791.5 734.9 792.0 735.4 792.5 735.8 793.0 736.3 793.5 736.7 794.0 737.1 794.5 737.6 795.0 738.1 795.5 738.5 796.0 739.0 796.5 739.5 797.0 739.9 797.5 740.4 798.0 740.9 798.5 741.4 799.0 741.9 799.5 742.4 800.0 742.9 800.5 743.4 801.0 743.9 801.5 744.4 802.0 744.9 802.5 745.5 803.0 746.0 803.5 746.5 804.0 747.1 804.5 747.6 805.0 748.1 805.5 748.7 806.0 749.3 806.5 749.8 807.0 750.4 807.5 750.9 808.0 751.5 808.5 752.1 809.0 752.7 809.5 753.3 810.0 753.8 810.5 754.4 811.0 755.0 811.5 755.6 812.0 756.2 812.5 756.8 813.0 757.5 813.5 758.1 814.0 758.7 814.5 759.3 815.0 759.9 815.5 760.6 816.0 761.2 816.5 761.9 817.0 762.5 817.5 763.2 818.0 763.8 818.5 764.5 819.0 765.1 819.5 765.8 820.0 766.5 820.5 767.1 821.0 767.8 821.5 768.5 822.0 769.2 822.5 769.9 823.0 770.6 823.5 771.3 824.0 772.0 824.5 772.7 825.0 773.4 825.5 774.1 826.0 774.8 826.5 775.5 827.0 776.2 827.5 777.0 828.0 777.7 828.5 778.4 829.0 779.2 829.5 779.9 830.0 780.7 830.5 781.4 831.0 782.2 831.5 782.9 832.0 783.7 832.5 784.5 833.0 785.2 833.5 786.0 834.0 786.8 834.5 787.6 835.0 788.3 835.5 789.1 836.0 789.9 836.5 790.7 837.0 791.5 837.5 792.3 838.0 793.1 838.5 793.9 839.0 794.8 839.5 795.6 840.0 796.4 840.5 797.2 841.0 798.0 841.5 798.9 842.0 799.7 842.5 800.5 843.0 801.4 843.5 802.2 844.0 803.1 844.5 803.9 845.0 804.8 845.5 805.6 846.0 806.5 846.5 807.4 847.0 808.2 847.5 809.1 848.0 810.0 848.5 810.9 849.0 811.8 849.5 812.6 850.0 813.5 850.5 814.4 851.0 815.3 851.5 816.2 852.0 817.1 852.5 818.0 853.0 818.9 853.5 819.9 854.0 820.8 854.5 821.7 855.0 822.6 855.5 823.6 856.0 824.5 856.5 825.4 857.0 826.4 857.5 827.3 858.0 828.2 858.5 829.2 859.0 830.1 859.5 831.1 860.0 832.0 860.5 833.0 861.0 834.0 861.5 834.9 862.0 835.9 862.5 836.9 863.0 837.8 863.5 838.8 864.0 839.8 864.5 840.8 865.0 841.8 865.5 842.8 866.0 843.8 866.5 844.8 867.0 845.8 867.5 846.8 868.0 847.8 868.5 848.8 869.0 849.8 869.5 850.8 870.0 851.8 870.5 852.8 871.0 853.9 871.5 854.9 872.0 855.9 872.5 857.0 873.0 858.0 873.5 859.0 874.0 860.1 874.5 861.1 875.0 862.2 875.5 863.2 876.0 864.3 876.5 865.3 877.0 866.4 877.5 867.4 878.0 868.5 878.5 869.6 879.0 870.6 879.5 871.7 880.0 872.8 880.5 873.9 881.0 875.0 881.5 876.0 882.0 877.1 882.5 878.2 883.0 879.3 883.5 880.4 884.0 881.5 884.5 882.6 885.0 883.7 885.5 884.8 886.0 885.9 886.5 887.0 887.0 888.2 887.5 889.3 888.0 890.4 888.5 891.5 889.0 892.6 889.5 893.8 890.0 894.9 890.5 896.0 891.0 897.2 891.5 898.3 892.0 899.5 892.5 900.6 893.0 901.7 893.5 902.9 894.0 904.1 894.5 905.2 895.0 906.4 895.5 907.5 896.0 908.7 896.5 909.9 897.0 911.0 897.5 912.2 898.0 913.4 898.5 914.5 899.0 915.7 899.5 916.9 900.0 918.1 900.5 919.3 901.0 920.4 901.5 921.6 902.0 922.8 902.5 924.0 903.0 925.2 903.5 926.4 904.0 927.6 904.5 928.8 905.0 930.0 905.5 931.2 906.0 932.5 906.5 933.7 907.0 934.9 907.5 936.1 908.0 937.3 908.5 938.6 909.0 939.8 909.5 941.0 910.0 942.2 910.5 943.5 911.0 944.7 911.5 945.9 912.0 947.2 912.5 948.4 913.0 949.7 913.5 950.9 914.0 952.2 914.5 953.4 915.0 954.7 915.5 955.9 916.0 957.2 916.5 958.4 917.0 959.7 917.5 961.0 918.0 962.2 918.5 963.5 919.0 964.8 919.5 966.1 920.0 967.3 920.5 968.6 921.0 969.9 921.5 971.2 922.0 972.5 922.5 973.7 923.0 975.0 923.5 976.3 924.0 977.6 924.5 978.9 925.0 980.2 925.5 981.5 926.0 982.8 926.5 984.1 927.0 985.4 927.5 986.7 928.0 988.0 928.5 989.3 929.0 990.6 929.5 992.0 930.0 993.3 930.5 994.6 931.0 995.9 931.5 997.2 932.0 998.6 932.5 999.9 933.0 1001.2 933.5 1002.6 934.0 1003.9 934.5 1005.2 935.0 1006.6 935.5 1007.9 936.0 1009.2 936.5 1010.6 937.0 1011.9 937.5 1013.3 938.0 1014.6 938.5 1016.0 939.0 1017.3 939.5 1018.7 940.0 1020.0 940.5 1021.4 941.0 1022.8 941.5 1024.1 942.0 1025.5 942.5 1026.8 943.0 1028.2 943.5 1029.6 944.0 1030.9 944.5 1032.3 945.0 1033.7 945.5 1035.1 946.0 1036.5 946.5 1037.8 947.0 1039.2 947.5 1040.6 948.0 1042.0 948.5 1043.4 949.0 1044.8 949.5 1046.1 950.0 1047.5 950.5 1048.9 951.0 1050.3 951.5 1051.7 952.0 1053.1 952.5 1054.5 953.0 1055.9 953.5 1057.3 954.0 1058.7 954.5 1060.1 955.0 1061.6 955.5 1063.0 956.0 1064.4 956.5 1065.8 957.0 1067.2 957.5 1068.6 958.0 1070.0 958.5 1071.5 959.0 1072.9 959.5 1074.3 960.0 1075.7 960.5 1077.2 961.0 1078.6 961.5 1080.0 962.0 1081.4 962.5 1082.2" fill="none" stroke="#0000B4" stroke-width="3.5" stroke-linejoin="round"/>
<rect id="frame" x="400.5" y="650.8" width="627" height="433.4" fill="none" stroke="#000" stroke-width="2.8"/>
<rect id="legend" x="843" y="660.5" width="177.7" height="240.8" fill="#fff" stroke="#000" stroke-width="2.2"/>
<line x1="857" y1="692.7" x2="942.5" y2="692.7" stroke="#C00000" stroke-width="3.6"/>
<line x1="857" y1="751.2" x2="942.5" y2="751.2" stroke="#480052" stroke-width="3.6"/>
<line x1="857" y1="809.6" x2="942.5" y2="809.6" stroke="#3C7C0E" stroke-width="3.6"/>
<line x1="857" y1="868.1" x2="942.5" y2="868.1" stroke="#0000B4" stroke-width="3.6"/>
<text id="ipv_I" font-family="Liberation Serif, Times New Roman, serif" font-style="italic" font-size="50" transform="matrix(1.0198,0,0,1.0198,-3.97,267.70)">I</text>
<text id="ipv_pv" font-family="Liberation Serif, Times New Roman, serif" font-style="italic" font-size="32" transform="matrix(1.0687,0,0,1.0207,9.97,273.41)">pv</text>
<text id="D" font-family="Liberation Serif, Times New Roman, serif" font-style="italic" font-size="50" transform="matrix(1.0250,0,0,1.0273,220.11,258.64)">D</text>
<text id="RP_R" font-family="Liberation Serif, Times New Roman, serif" font-style="italic" font-size="50" transform="matrix(1.0100,0,0,1.0656,484.85,330.10)">R</text>
<text id="RP_P" font-family="Liberation Serif, Times New Roman, serif" font-style="italic" font-size="33" transform="matrix(0.9744,0,0,1.0069,517.74,333.70)">P</text>
<text id="RS_R" font-family="Liberation Serif, Times New Roman, serif" font-style="italic" font-size="50" transform="matrix(1.0433,0,0,1.0718,548.06,129.50)">R</text>
<text id="RS_S" font-family="Liberation Serif, Times New Roman, serif" font-style="italic" font-size="33" transform="matrix(1.0968,0,0,1.0202,579.95,133.44)">S</text>
<text id="I" font-family="Liberation Serif, Times New Roman, serif" font-style="italic" font-size="50" transform="matrix(1.2267,0,0,1.0656,571.71,241.90)">I</text>
<text id="U" font-family="Liberation Serif, Times New Roman, serif" font-style="italic" font-size="50" transform="matrix(1.0423,0,0,1.0496,729.31,320.38)">U</text>
<text id="lab_a" font-family="Liberation Serif, Times New Roman, serif" font-size="40" transform="matrix(0.9488,0,0,0.9407,356.34,563.90)">(a)</text>
<text id="lab_b" font-family="Liberation Serif, Times New Roman, serif" font-size="40" transform="matrix(0.9595,0,0,0.9595,420.82,1240.43)">(b)</text>
<text id="ivc" font-family="Liberation Sans, Arial, sans-serif" font-weight="bold" font-size="19.5" fill="#14ABEA" transform="matrix(0.9835,0,0,0.9931,837.47,99.55)">I-V Curve of the Solar Cell</text>
<text id="mpp1" font-family="Liberation Sans, Arial, sans-serif" font-weight="bold" font-size="21" fill="#1f1f28" stroke="#fff" stroke-width="0.15" transform="matrix(1.0826,0,0,1.1200,1255.88,113.60)">Maximum Power Point</text>
<text id="mpp2" font-family="Liberation Sans, Arial, sans-serif" font-weight="bold" font-size="21" fill="#1f1f28" stroke="#fff" stroke-width="0.15" transform="matrix(1.0895,0,0,1.0130,1255.84,142.39)">(MPP)</text>
<text id="volt" font-family="Liberation Sans, Arial, sans-serif" font-weight="bold" font-size="21" fill="#1f1f28" stroke="#fff" stroke-width="0.15" transform="matrix(1.0932,0,0,1.1013,1232.13,469.32)">Voltage (V)</text>
<text id="pw" font-family="Liberation Sans, Arial, sans-serif" font-weight="bold" font-size="23" fill="#14ABEA" transform="translate(807.96,219.48) rotate(-90) scale(0.9859,0.9750)">Power</text>
<text id="slash" font-family="Liberation Sans, Arial, sans-serif" font-size="23" fill="#000" stroke="#000" stroke-width="0.5" transform="translate(809.96,145.30) rotate(-90) scale(1.2000,1.0743)">/</text>
<text id="cur" font-family="Liberation Sans, Arial, sans-serif" font-weight="bold" font-size="23" fill="#FF1F1F" transform="translate(808.35,131.62) rotate(-90) scale(1.0239,1.0092)">Current</text>
<text id="pcurve" font-family="Liberation Sans, Arial, sans-serif" font-weight="bold" font-size="19" fill="#FF1F1F" transform="translate(867.30,371.20) rotate(-45.00) scale(0.9867) translate(-1.25,0)">Power Curve of the Solar Cell</text>
<text id="tV1" font-family="Liberation Serif, Times New Roman, serif" font-size="42" transform="matrix(0.8881,0,0,1.0761,427.46,698.89)">V</text>
<text id="tS1" font-family="Liberation Serif, Times New Roman, serif" font-size="32" transform="matrix(0.9377,0,0,1.0837,454.10,716.86)">W4</text>
<text id="tG1" font-family="Liberation Serif, Times New Roman, serif" font-size="42" transform="matrix(1.0886,0,0,1.0250,510.22,698.60)">&gt;</text>
<text id="tV2" font-family="Liberation Serif, Times New Roman, serif" font-size="42" transform="matrix(0.9051,0,0,1.0584,543.25,698.71)">V</text>
<text id="tS2" font-family="Liberation Serif, Times New Roman, serif" font-size="32" transform="matrix(0.8889,0,0,1.1034,567.70,717.55)">W3</text>
<text id="tG2" font-family="Liberation Serif, Times New Roman, serif" font-size="42" transform="matrix(1.0785,0,0,0.9850,622.64,698.04)">&gt;</text>
<text id="tV3" font-family="Liberation Serif, Times New Roman, serif" font-size="42" transform="matrix(0.8576,0,0,1.0549,657.17,698.51)">V</text>
<text id="tS3" font-family="Liberation Serif, Times New Roman, serif" font-size="32" transform="matrix(0.9101,0,0,1.0483,680.40,717.08)">W2</text>
<text id="tG3" font-family="Liberation Serif, Times New Roman, serif" font-size="42" transform="matrix(1.0582,0,0,0.9800,735.28,698.12)">&gt;</text>
<text id="tV4" font-family="Liberation Serif, Times New Roman, serif" font-size="42" transform="matrix(0.8576,0,0,1.0619,769.27,698.70)">V</text>
<text id="tS4" font-family="Liberation Serif, Times New Roman, serif" font-size="32" transform="matrix(0.8588,0,0,1.0483,791.90,717.08)">W1</text>
<text id="lV1" font-family="Liberation Serif, Times New Roman, serif" font-size="33" transform="matrix(0.8903,0,0,1.0292,958.18,701.19)">V</text>
<text id="lS1" font-family="Liberation Serif, Times New Roman, serif" font-size="24" transform="matrix(0.8500,0,0,1.1000,976.40,715.52)">w1</text>
<text id="lV2" font-family="Liberation Serif, Times New Roman, serif" font-size="33" transform="matrix(0.8903,0,0,1.0292,958.18,759.79)">V</text>
<text id="lS2" font-family="Liberation Serif, Times New Roman, serif" font-size="24" transform="matrix(0.8481,0,0,1.0182,977.30,773.09)">W2</text>
<text id="lV3" font-family="Liberation Serif, Times New Roman, serif" font-size="33" transform="matrix(0.8559,0,0,1.0472,958.99,817.48)">V</text>
<text id="lS3" font-family="Liberation Serif, Times New Roman, serif" font-size="24" transform="matrix(0.8089,0,0,1.0121,977.30,831.19)">W3</text>
<text id="lV4" font-family="Liberation Serif, Times New Roman, serif" font-size="33" transform="matrix(0.8903,0,0,1.0292,958.18,875.69)">V</text>
<text id="lS4" font-family="Liberation Serif, Times New Roman, serif" font-size="24" transform="matrix(0.8380,0,0,1.0585,977.30,889.37)">W4</text>
<text id="yP" font-family="Liberation Serif, Times New Roman, serif" font-style="italic" font-size="40" transform="translate(364.60,938.50) rotate(-90) scale(1.1874,1.0171)">P</text>
<text id="yWT" font-family="Liberation Serif, Times New Roman, serif" font-size="30" transform="translate(380.67,914.20) rotate(-90) scale(1.1524,1.0667)">WT</text>
<text id="yW" font-family="Liberation Serif, Times New Roman, serif" font-size="40" transform="translate(364.39,851.18) rotate(-90) scale(1.0754,0.9545)">(W)</text>
<text id="xw" font-family="Liberation Serif, Times New Roman, serif" font-style="italic" font-size="40" transform="matrix(0.9624,0,0,1.0753,661.90,1137.26)">ω</text>
<text id="xt" font-family="Liberation Serif, Times New Roman, serif" font-size="30" transform="matrix(0.9500,0,0,1.2000,686.76,1156.40)">t</text>
<text id="xrps" font-family="Liberation Serif, Times New Roman, serif" font-size="40" transform="matrix(0.9500,0,0,1.0566,711.84,1136.52)">(rps)</text>
</svg></body></html>
